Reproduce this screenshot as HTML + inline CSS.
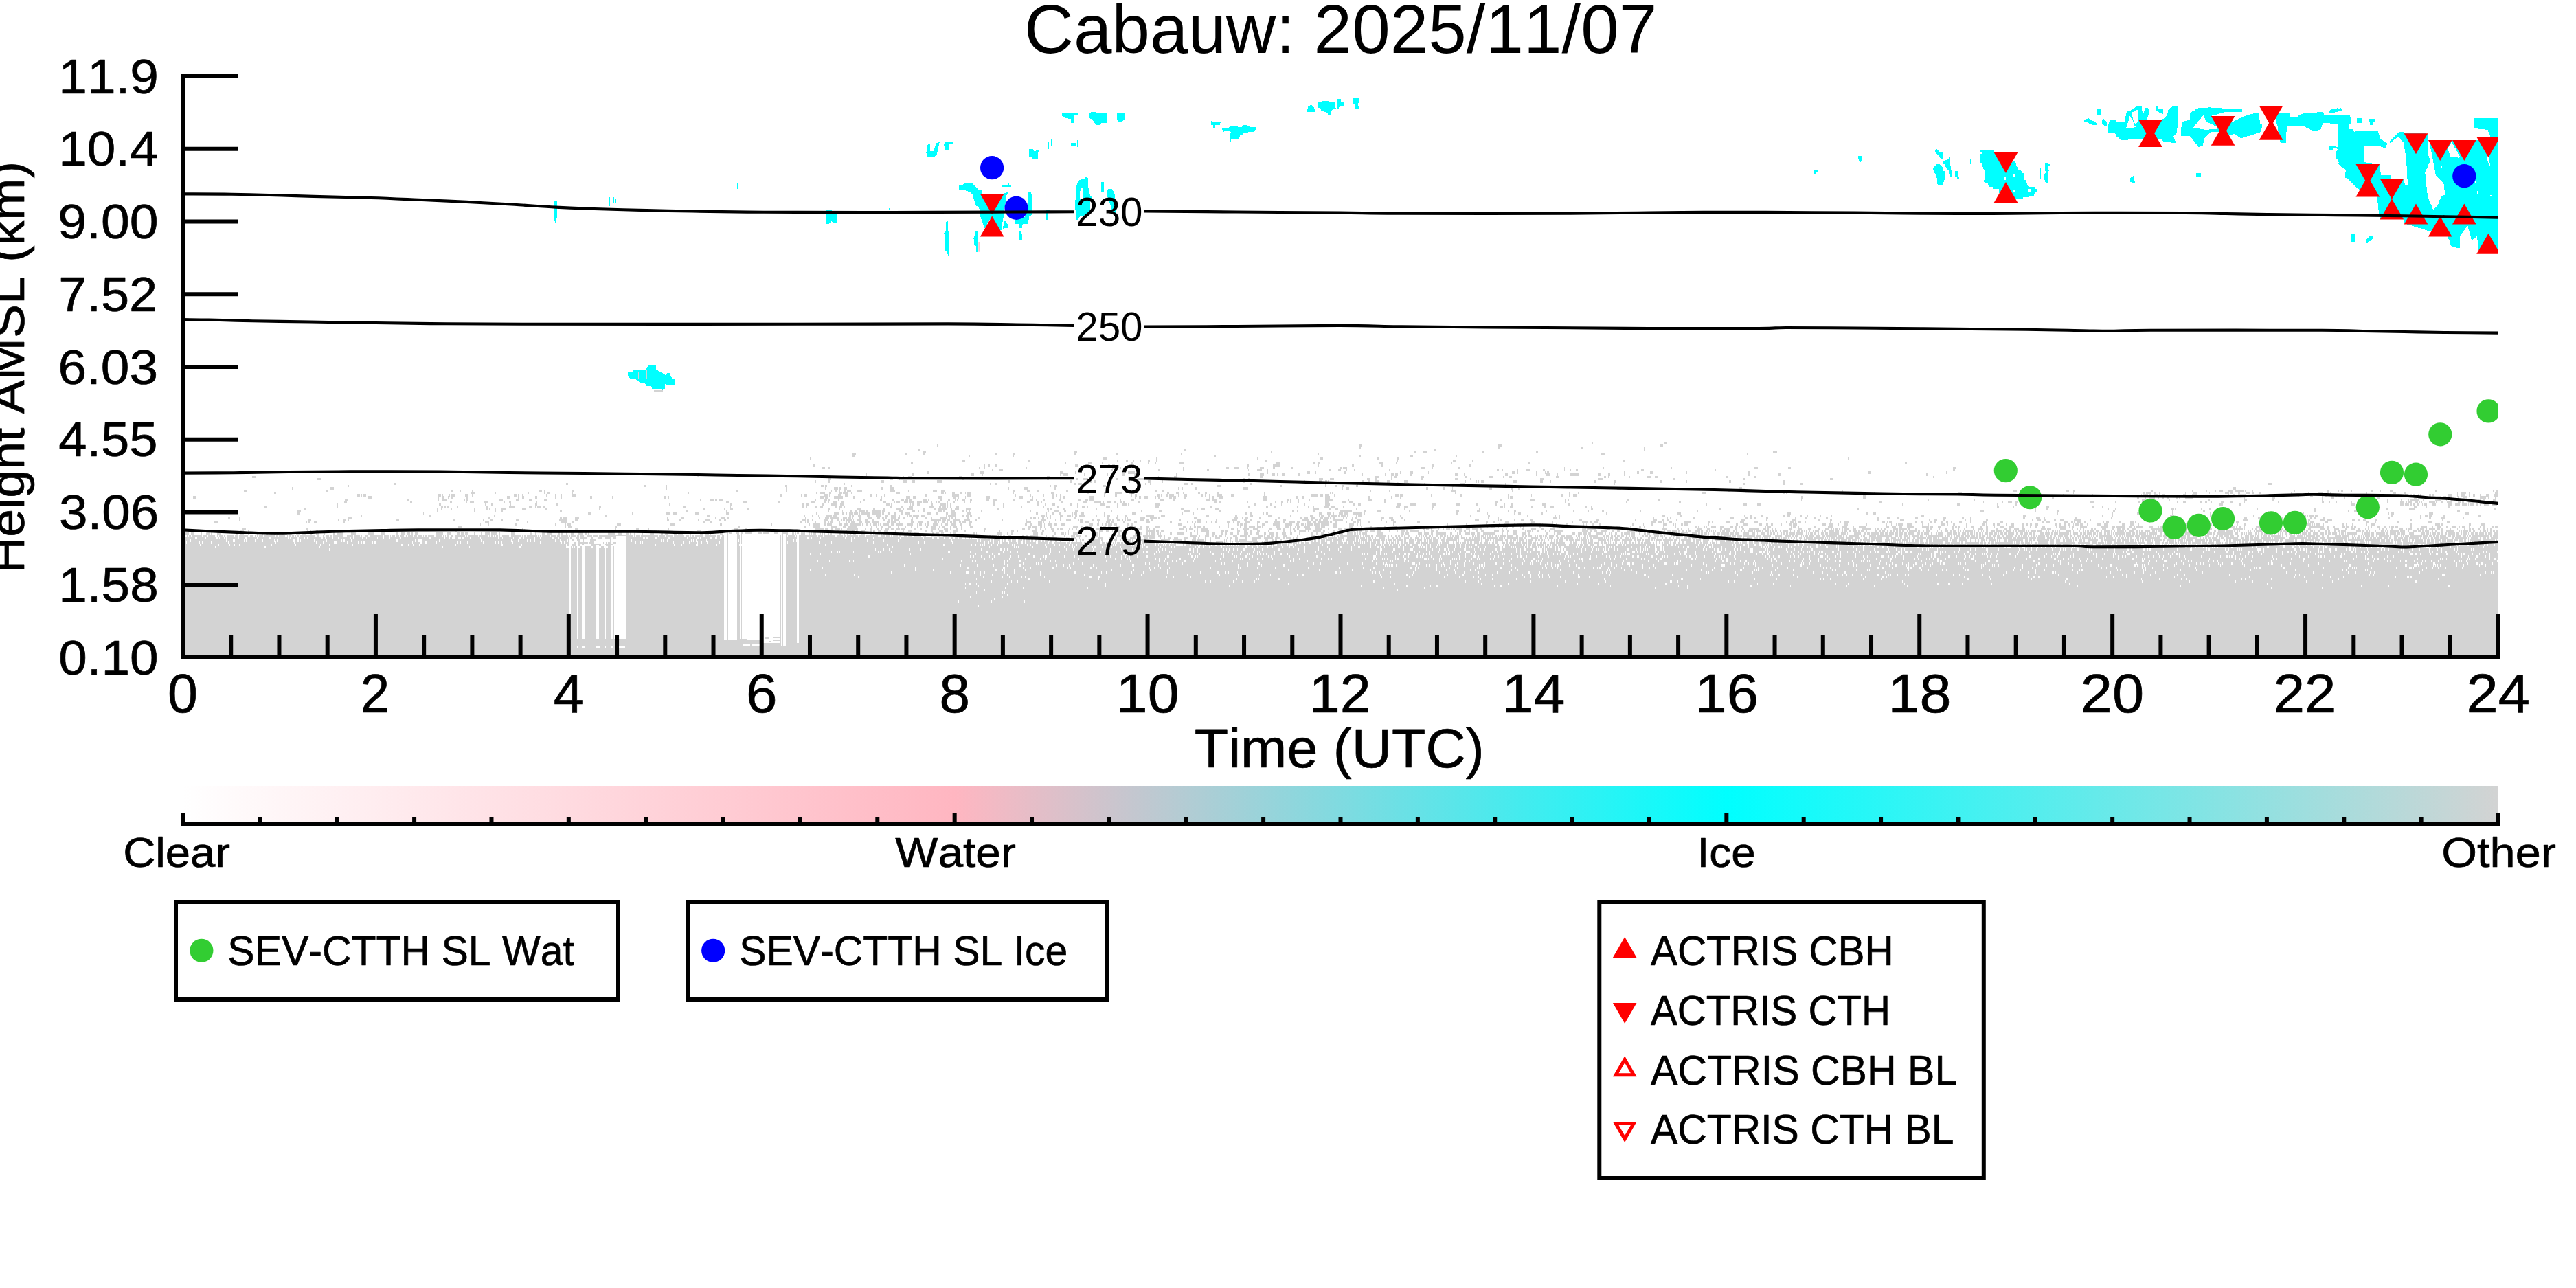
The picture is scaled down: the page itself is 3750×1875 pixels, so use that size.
<!DOCTYPE html><html><head><meta charset="utf-8"><title>Cabauw: 2025/11/07</title>
<style>html,body{margin:0;padding:0;background:#fff}body{width:3750px;height:1875px;overflow:hidden;font-family:"Liberation Sans",sans-serif}svg{display:block}</style></head><body>
<svg width="3750" height="1875" viewBox="0 0 3750 1875">
<rect width="3750" height="1875" fill="#fff"/>
<defs><clipPath id="ax"><rect x="266" y="100" width="3371" height="857"/></clipPath></defs>
<g clip-path="url(#ax)">
<g transform="translate(266.00,0) scale(1.17049,1)" shape-rendering="crispEdges">
<path d="M0 957.0L0 778.6L762 778.6L762 775.3L808 775.3L808 778.6L896 778.6L896 781.9L982 781.9L982 785.2L1128 785.2L1128 788.5L1232 788.5L1232 791.8L1364 791.8L1364 788.5L1389 788.5L1389 785.2L1409 785.2L1409 781.9L1423 781.9L1423 778.6L1433 778.6L1433 775.3L1448 775.3L1448 772.0L1464 772.0L1464 775.3L1478 775.3L1478 778.6L1800 778.6L1800 775.3L1862 775.3L1862 772.0L2880 772.0L2880 957.0 Z" fill="#d3d3d3"/>
<path d="M1753 645.0h1m89 0h2M938 648.2h1m524 0h3m169 0h5m198 0h3M1463 651.5h2m170 0h4m100 0h3m75 0h1m300 0h1M915 654.9h2m329 0h1m310 0h2m258 0h1M921 658.1h3m185 0h3m241 0h1m178 0h2m9 0h4m36 0h1m32 0h3m64 0h3m292 0h5M833 661.5h4m61 0h3m20 0h2m87 0h3m19 0h3m2 0h1m71 0h2m50 0h3m77 0h2m169 0h1m134 0h1m216 0h5m29 0h1m146 0h1M833 664.8h3m142 0h1m53 0h2m249 0h2m178 0h2m61 0h4m17 0h1m35 0h2m593 0h1M780 668.0h1m364 0h4m62 0h1m124 0h2m77 0h3m67 0h2m23 0h2m559 0h2M969 671.4h4m78 0h2m109 0h2m4 0h1m4 0h3m6 0h1m8 0h1m8 0h3m8 0h1m134 0h3m117 0h1m18 0h1m24 0h1m69 0h3m21 0h1m186 0h3M906 674.6h2m189 0h2m27 0h4m13 0h1m35 0h3m18 0h2m7 0h2m28 0h6m115 0h5m41 0h2m4 0h2m74 0h5m16 0h1m68 0h1m34 0h1m59 0h2m467 0h2M784 678.0h2m211 0h1m4 0h2m7 0h1m25 0h1m72 0h4m16 0h1m20 0h2m3 0h3m6 0h1m16 0h1m56 0h1m83 0h3m30 0h3m1 0h4m48 0h1m41 0h3m34 0h2m60 0h3m44 0h3M795 681.2h4m4 0h2m185 0h1m6 0h1m39 0h1m11 0h1m106 0h2m8 0h1m77 0h2m52 0h3m7 0h5m10 0h2m15 0h3m1 0h1m11 0h2m20 0h3m58 0h2m2 0h5m92 0h5m8 0h2m1 0h1m29 0h2m50 0h1m79 0h1m48 0h1m83 0h1m102 0h5m38 0h3m202 0h3M1006 684.5h1m8 0h5m134 0h3m56 0h3m28 0h1m29 0h2m49 0h1m10 0h6m7 0h1m75 0h3m9 0h3m7 0h1m9 0h1m42 0h2m54 0h1m77 0h3m1 0h1m1 0h2m18 0h1m9 0h5m17 0h2m24 0h1m7 0h1m6 0h2m79 0h3m88 0h2m295 0h2M925 687.9h3m64 0h5m94 0h3m16 0h1m57 0h2m6 0h3m1 0h4m165 0h1m48 0h4m7 0h1m35 0h2m24 0h1m42 0h1m12 0h3m19 0h1m27 0h1m75 0h4m3 0h1m20 0h1m1 0h2m9 0h1m2 0h2m93 0h2m15 0h2m14 0h4m41 0h1m34 0h1m40 0h4m146 0h3m94 0h2M850 691.1h1m56 0h2m71 0h4m10 0h1m96 0h2m2 0h6m20 0h1m27 0h2m17 0h3m12 0h3m49 0h2m88 0h2m13 0h5m3 0h1m5 0h4m3 0h2m4 0h4m16 0h3m24 0h1m52 0h1m27 0h2m6 0h3m2 0h3m16 0h2m53 0h4m7 0h2m50 0h3m35 0h1m12 0h4m9 0h1m6 0h1m8 0h12m24 0h2m10 0h2m17 0h1m153 0h3m36 0h2m147 0h1m33 0h3M86 694.5h5m782 0h1m21 0h2m5 0h5m58 0h4m106 0h3m77 0h2m3 0h1m52 0h1m19 0h3m104 0h4m4 0h1m65 0h1m67 0h6m15 0h1m3 0h3m30 0h4m51 0h2m27 0h5m13 0h1m7 0h3m55 0h3m5 0h1m3 0h1m47 0h2m3 0h1m25 0h1m21 0h5m5 0h4m85 0h1m34 0h2m220 0h1M167 697.8h5m630 0h4m43 0h1m30 0h3m7 0h2m78 0h1m104 0h2m26 0h1m7 0h2m7 0h6m7 0h1m27 0h2m25 0h9m21 0h1m6 0h5m3 0h2m83 0h4m3 0h3m20 0h1m64 0h5m9 0h5m41 0h3m6 0h4m17 0h1m36 0h3m39 0h4m15 0h2m85 0h5m68 0h5m88 0h2m84 0h3m106 0h3M787 701.0h1m14 0h3m44 0h1m19 0h3m24 0h5m6 0h4m27 0h7m65 0h1m16 0h2m75 0h2m18 0h1m3 0h2m4 0h1m42 0h1m22 0h5m13 0h1m99 0h3m2 0h1m71 0h1m17 0h4m4 0h2m1 0h1m42 0h2m5 0h2m7 0h5m10 0h3m18 0h5m70 0h2m13 0h1m1 0h1m3 0h4m36 0h5m28 0h4m9 0h1m53 0h2m23 0h2m55 0h2m30 0h2m52 0h3m64 0h3M262 704.4h3m212 0h2m344 0h1m180 0h1m5 0h2m96 0h3m2 0h5m79 0h2m4 0h1m42 0h5m3 0h2m71 0h3m91 0h1m39 0h1m14 0h2m46 0h1m19 0h1m43 0h6m51 0h1m95 0h1m38 0h1m56 0h1m102 0h3m47 0h2m14 0h1m4 0h4m578 0h5M206 707.6h1m367 0h3m24 0h1m147 0h2m43 0h4m1 0h2m30 0h2m46 0h3m128 0h1m68 0h1m4 0h3m58 0h3m139 0h1m1 0h2m73 0h3m54 0h1m12 0h2m5 0h3m15 0h1m1 0h1m117 0h2m16 0h1m19 0h1m6 0h6m1 0h1m5 0h2M136 711.0h1m47 0h4m413 0h1m148 0h2m47 0h1m10 0h5m1 0h3m4 0h3m1 0h1m40 0h3m9 0h5m142 0h1m18 0h5m33 0h2m152 0h2m3 0h1m15 0h3m57 0h6m116 0h2m3 0h5m95 0h3m18 0h3m9 0h1m17 0h1m26 0h4m24 0h2m7 0h2m121 0h5m132 0h1m13 0h4m610 0h5M76 714.2h4m98 0h3m152 0h3m9 0h1m14 0h1m82 0h4m2 0h2m33 0h2m202 0h2m60 0h1m55 0h1m4 0h3m2 0h2m5 0h2m1 0h5m8 0h6m34 0h5m1 0h1m16 0h1m30 0h5m5 0h5m85 0h2m15 0h3m9 0h3m34 0h2m108 0h3m6 0h3m239 0h1m15 0h2m22 0h1m77 0h5m70 0h2m266 0h3m66 0h6m6 0h4m57 0h2m211 0h5m61 0h4m5 0h2m95 0h2m49 0h2m15 0h2m10 0h1m3 0h5m7 0h6m3 0h11m1 0h1m8 0h1m50 0h2m40 0h3m10 0h2m2 0h3m9 0h2m24 0h2m8 0h2m11 0h3m53 0h3m69 0h1m3 0h2M114 717.5h2m243 0h4m25 0h2m39 0h2m18 0h1m4 0h2m28 0h1m144 0h1m58 0h1m83 0h1m15 0h1m4 0h6m5 0h2m11 0h3m1 0h6m4 0h1m47 0h1m8 0h4m51 0h4m1 0h1m8 0h3m6 0h3m4 0h1m2 0h5m52 0h1m46 0h4m19 0h1m20 0h3m19 0h2m11 0h4m1 0h4m56 0h3m8 0h4m5 0h1m18 0h2m6 0h3m12 0h3m56 0h1m81 0h1m1 0h1m152 0h1m141 0h1m10 0h2m153 0h4m96 0h2m2 0h1m73 0h1m1 0h2m31 0h2m103 0h5m138 0h1m86 0h2m2 0h6m4 0h2m4 0h2m30 0h1m10 0h5m14 0h1m19 0h5m1 0h4m6 0h3m4 0h1m2 0h5m3 0h2m6 0h3m37 0h1m20 0h1m12 0h5m6 0h2m2 0h1m24 0h1m18 0h2m32 0h4m9 0h3m64 0h1m3 0h7m3 0h1m32 0h4M169 720.9h1m47 0h3m1 0h2m1 0h4m89 0h4m1 0h2m7 0h1m2 0h4m13 0h4m5 0h1m51 0h4m1 0h1m4 0h2m28 0h2m9 0h2m6 0h1m12 0h5m254 0h2m24 0h1m2 0h5m20 0h6m1 0h1m10 0h4m3 0h1m1 0h3m28 0h2m5 0h1m9 0h1m50 0h3m31 0h8m10 0h5m55 0h1m18 0h1m15 0h1m11 0h2m2 0h1m4 0h2m53 0h1m12 0h3m18 0h1m3 0h3m25 0h4m1 0h1m5 0h3m1 0h6m5 0h2m5 0h4m18 0h2m2 0h2m3 0h2m9 0h4m1 0h1m11 0h4m37 0h1m57 0h9m3 0h3m3 0h5m6 0h1m75 0h5m1 0h1m1 0h2m34 0h1m36 0h2m57 0h2m27 0h1m37 0h2m7 0h1m4 0h5m324 0h1m31 0h4m187 0h5m52 0h2m34 0h2m60 0h1m1 0h2m1 0h3m1 0h3m3 0h6m1 0h2m1 0h4m23 0h3m8 0h6m39 0h1m4 0h4m3 0h10m45 0h3m17 0h1m14 0h3m15 0h2m11 0h2m9 0h1m4 0h1m11 0h1m3 0h2m18 0h2m11 0h5m17 0h3m3 0h2m2 0h2m4 0h1m2 0h1m8 0h1m1 0h2m2 0h2m11 0h1m6 0h5m6 0h1m3 0h5m5 0h1m4 0h3m6 0h1m7 0h4m5 0h5M13 724.1h3m215 0h5m82 0h1m3 0h3m5 0h1m3 0h2m16 0h3m48 0h4m8 0h1m1 0h1m4 0h1m1 0h1m13 0h3m22 0h1m7 0h1m35 0h2m25 0h2m63 0h2m2 0h2m188 0h4m2 0h4m7 0h11m13 0h2m32 0h2m30 0h5m3 0h4m27 0h5m14 0h3m3 0h1m8 0h1m26 0h4m37 0h4m11 0h2m23 0h2m8 0h1m2 0h3m31 0h5m51 0h2m3 0h3m3 0h5m9 0h2m2 0h3m11 0h3m1 0h4m4 0h1m5 0h3m28 0h1m4 0h1m7 0h5m50 0h5m36 0h2m6 0h1m27 0h6m47 0h3m26 0h1m10 0h1m133 0h1m2 0h3m359 0h2m75 0h3m201 0h5m3 0h1m22 0h2m104 0h2m8 0h1m3 0h8m3 0h2m3 0h3m4 0h3m8 0h2m2 0h1m6 0h7m1 0h2m64 0h1m33 0h4m58 0h2m10 0h3m13 0h1m40 0h3m43 0h3m2 0h6m11 0h12m2 0h4m4 0h3m5 0h1m2 0h1m5 0h5m3 0h1m12 0h8m2 0h1m6 0h1m1 0h1M202 727.5h3m74 0h3m36 0h1m4 0h5m21 0h2m1 0h3m39 0h4m16 0h5m12 0h3m15 0h5m67 0h1m121 0h1m12 0h4m2 0h3m2 0h5m115 0h1m9 0h4m1 0h3m10 0h2m30 0h1m19 0h3m12 0h2m10 0h3m1 0h4m1 0h4m14 0h5m1 0h1m2 0h1m11 0h2m8 0h2m6 0h2m1 0h1m5 0h4m6 0h3m18 0h3m5 0h4m21 0h2m18 0h5m3 0h1m8 0h2m1 0h1m15 0h4m21 0h3m6 0h3m2 0h5m32 0h2m13 0h3m32 0h5m12 0h2m39 0h4m4 0h1m1 0h3m58 0h4m16 0h1m9 0h2m1 0h1m9 0h1m13 0h1m19 0h9m20 0h1m23 0h5m15 0h3m105 0h1m35 0h2m36 0h5m38 0h1m3 0h1m72 0h2m37 0h2m174 0h1m1 0h1m49 0h1m107 0h1m55 0h2m208 0h3m6 0h1m2 0h1m6 0h1m2 0h1m7 0h1m3 0h1m47 0h2m43 0h3m31 0h3m59 0h1m44 0h2m35 0h1m16 0h1m7 0h2m1 0h12m4 0h2m4 0h1m8 0h7m7 0h1m5 0h1m10 0h1m3 0h3m11 0h1m3 0h5m1 0h4m4 0h1m4 0h4M201 730.8h3m79 0h2m47 0h3m17 0h2m3 0h5m13 0h5m20 0h1m5 0h2m31 0h2m235 0h3m18 0h5m39 0h2m39 0h5m11 0h2m2 0h2m5 0h4m3 0h1m2 0h3m20 0h1m28 0h4m9 0h2m2 0h4m5 0h5m2 0h6m3 0h6m1 0h7m4 0h1m4 0h2m1 0h3m9 0h1m7 0h1m11 0h2m6 0h2m27 0h3m39 0h4m8 0h3m2 0h2m24 0h1m25 0h5m6 0h1m3 0h4m1 0h3m3 0h1m4 0h4m4 0h3m5 0h2m2 0h2m16 0h2m92 0h5m2 0h2m32 0h2m33 0h2m4 0h1m1 0h2m6 0h1m2 0h1m9 0h1m33 0h5m15 0h6m4 0h4m39 0h2m32 0h1m104 0h2m84 0h1m75 0h2m64 0h2m148 0h1m98 0h3m114 0h1m11 0h1m22 0h2m6 0h5m4 0h3m90 0h5m26 0h1m28 0h2m3 0h2m5 0h2m3 0h1m30 0h1m7 0h3m6 0h1m11 0h2m4 0h3m4 0h2m3 0h1m7 0h3m8 0h3m15 0h1m41 0h1m53 0h3m7 0h1m7 0h1m18 0h1m44 0h1m15 0h5m2 0h1m1 0h5m1 0h1m2 0h4m1 0h2m1 0h1m7 0h1m1 0h3m1 0h3m1 0h2m5 0h2m5 0h7m7 0h4m1 0h2m5 0h2m1 0h4m8 0h12m1 0h4m1 0h5M192 734.0h1m126 0h2m55 0h1m7 0h1m22 0h1m30 0h3m24 0h2m138 0h2m74 0h2m88 0h2m3 0h2m8 0h1m8 0h2m9 0h2m1 0h2m1 0h1m5 0h4m35 0h1m17 0h4m2 0h1m23 0h1m1 0h2m4 0h4m13 0h3m9 0h7m2 0h1m2 0h1m52 0h3m10 0h1m41 0h3m7 0h1m8 0h4m19 0h2m6 0h1m28 0h3m1 0h2m15 0h1m6 0h5m2 0h1m33 0h5m117 0h3m17 0h2m12 0h1m17 0h1m10 0h1m25 0h6m29 0h2m4 0h3m45 0h5m12 0h4m1 0h2m20 0h4m25 0h5m20 0h3m22 0h1m10 0h1m7 0h3m36 0h4m28 0h3m168 0h2m44 0h5m13 0h5m175 0h2m67 0h3m46 0h2m4 0h1m16 0h2m156 0h4m81 0h1m9 0h5m20 0h3m137 0h5m33 0h1m22 0h4m2 0h5m1 0h2m1 0h3m2 0h3m4 0h1m1 0h4m7 0h4m16 0h4m4 0h6m3 0h6m1 0h1m2 0h4m4 0h2m2 0h2m3 0h6m4 0h6M101 737.4h3m88 0h1m128 0h3m1 0h2m1 0h3m10 0h2m35 0h2m26 0h3m1 0h3m16 0h1m1 0h3m4 0h1m2 0h5m2 0h2m68 0h2m103 0h3m55 0h1m89 0h1m4 0h1m9 0h3m3 0h4m16 0h1m3 0h4m2 0h2m14 0h1m13 0h1m4 0h1m22 0h2m12 0h1m8 0h5m12 0h1m8 0h5m7 0h2m2 0h4m2 0h1m2 0h2m5 0h4m55 0h1m21 0h2m26 0h1m12 0h1m4 0h2m22 0h2m4 0h4m2 0h2m22 0h5m9 0h1m47 0h4m64 0h3m44 0h3m19 0h3m7 0h2m27 0h1m12 0h2m4 0h2m13 0h5m3 0h6m1 0h1m7 0h1m38 0h1m26 0h5m5 0h4m31 0h3m82 0h3m2 0h1m6 0h3m23 0h3m13 0h2m5 0h5m39 0h2m5 0h2m503 0h3m18 0h1m40 0h3m54 0h3m9 0h2m48 0h3m264 0h3m63 0h1m4 0h3m12 0h1m27 0h2M151 740.6h3m154 0h1m7 0h2m3 0h2m11 0h1m27 0h1m15 0h1m2 0h1m7 0h1m3 0h1m2 0h6m20 0h4m3 0h1m21 0h3m64 0h1m128 0h2m24 0h1m7 0h3m17 0h3m99 0h2m12 0h1m4 0h1m16 0h5m2 0h1m12 0h2m10 0h3m14 0h5m3 0h1m4 0h7m13 0h2m12 0h1m4 0h10m5 0h2m3 0h1m1 0h3m9 0h7m26 0h1m5 0h3m59 0h2m1 0h3m14 0h2m38 0h2m104 0h5m15 0h2m4 0h4m13 0h4m82 0h1m35 0h7m13 0h2m6 0h3m22 0h2m58 0h2m33 0h1m57 0h2m137 0h3m156 0h3m169 0h3m188 0h1m30 0h1m13 0h2m74 0h2m7 0h2m49 0h2m17 0h4m1 0h1m31 0h1m9 0h2m57 0h2m69 0h4m50 0h2m10 0h5m19 0h3m26 0h4m1 0h2m99 0h2M142 744.0h5m88 0h1m80 0h2m44 0h1m26 0h1m6 0h2m71 0h3m154 0h2m48 0h1m125 0h2m7 0h1m4 0h1m3 0h1m9 0h3m3 0h3m2 0h2m1 0h4m1 0h3m6 0h11m1 0h3m18 0h5m11 0h4m3 0h2m5 0h2m7 0h1m9 0h5m1 0h2m8 0h2m1 0h1m10 0h2m2 0h1m2 0h2m14 0h1m60 0h1m21 0h1m7 0h5m7 0h3m11 0h3m41 0h2m36 0h1m21 0h4m28 0h4m1 0h2m8 0h1m26 0h3m57 0h1m21 0h1m9 0h2m4 0h1m18 0h3m31 0h5m1 0h9m15 0h2m15 0h5m34 0h2m57 0h3m23 0h4m34 0h1m7 0h2m37 0h2m32 0h1m18 0h1m16 0h3m44 0h2m69 0h2m351 0h4m64 0h1m26 0h2m61 0h1m6 0h2m71 0h2m37 0h2m136 0h2m40 0h1m7 0h3m69 0h1m55 0h3M142 747.2h4m153 0h1m204 0h4m51 0h1m41 0h5m4 0h5m22 0h5m34 0h3m109 0h1m21 0h7m3 0h3m2 0h1m3 0h5m1 0h5m1 0h1m2 0h10m4 0h10m2 0h2m5 0h2m5 0h3m7 0h1m3 0h5m1 0h1m4 0h1m15 0h5m6 0h3m10 0h3m3 0h7m4 0h1m9 0h4m81 0h3m10 0h1m6 0h3m6 0h2m14 0h1m2 0h3m5 0h4m25 0h1m34 0h4m58 0h1m12 0h2m64 0h2m3 0h3m13 0h2m2 0h3m63 0h4m6 0h5m3 0h1m1 0h1m4 0h5m2 0h4m6 0h12m2 0h1m114 0h2m36 0h1m33 0h1m4 0h3m26 0h2m78 0h1m87 0h5m133 0h4m93 0h3m6 0h4m113 0h1m111 0h1m68 0h1m30 0h2m41 0h2m40 0h1m4 0h1m22 0h2m91 0h1m105 0h1m3 0h3m44 0h5m40 0h4M150 750.5h1m71 0h1m83 0h2m79 0h2m136 0h3m124 0h4m116 0h2m9 0h1m6 0h1m9 0h7m1 0h6m15 0h2m2 0h2m5 0h4m7 0h4m7 0h7m5 0h3m4 0h3m1 0h2m4 0h1m9 0h1m2 0h3m1 0h8m2 0h5m11 0h1m14 0h1m2 0h9m8 0h3m2 0h4m1 0h3m86 0h4m2 0h1m3 0h2m3 0h1m3 0h1m3 0h4m5 0h5m1 0h1m3 0h2m3 0h8m12 0h2m9 0h1m3 0h3m9 0h2m8 0h2m25 0h9m9 0h5m34 0h1m16 0h3m33 0h2m16 0h4m19 0h5m22 0h2m23 0h3m6 0h1m1 0h2m1 0h3m5 0h3m1 0h7m2 0h2m1 0h1m1 0h4m2 0h2m2 0h1m2 0h1m3 0h2m1 0h4m48 0h1m86 0h2m20 0h3m46 0h1m34 0h1m4 0h1m127 0h4m18 0h2m78 0h1m7 0h1m11 0h3m25 0h3m2 0h4m12 0h3m6 0h1m15 0h2m12 0h1m111 0h4m53 0h1m69 0h3m95 0h1m12 0h1m71 0h3m1 0h1m29 0h5m10 0h1m2 0h2m49 0h1m58 0h1m2 0h1m1 0h2m1 0h1m2 0h5m2 0h3m92 0h2m34 0h1m5 0h4m1 0h4m13 0h3m40 0h4M56 753.9h3m11 0h2m134 0h4m96 0h1m73 0h3m86 0h3m1 0h5m10 0h5m105 0h1m3 0h1m16 0h5m38 0h1m6 0h5m3 0h2m95 0h2m15 0h1m7 0h5m1 0h12m4 0h5m1 0h4m2 0h1m7 0h3m9 0h5m5 0h4m3 0h2m2 0h2m5 0h7m1 0h3m4 0h3m8 0h1m1 0h1m2 0h2m9 0h3m5 0h1m10 0h9m2 0h1m2 0h2m2 0h1m14 0h3m11 0h2m63 0h2m2 0h3m3 0h1m2 0h1m1 0h2m4 0h1m2 0h2m11 0h1m16 0h3m39 0h2m8 0h3m9 0h1m2 0h1m15 0h6m6 0h1m1 0h7m1 0h3m42 0h4m46 0h4m5 0h1m4 0h3m14 0h2m22 0h1m25 0h3m3 0h4m4 0h6m2 0h1m3 0h3m2 0h6m1 0h1m2 0h4m9 0h2m2 0h1m6 0h2m2 0h3m30 0h3m6 0h5m10 0h2m106 0h1m12 0h1m67 0h5m3 0h1m116 0h1m15 0h2m3 0h1m28 0h1m44 0h5m14 0h3m4 0h1m3 0h3m12 0h3m23 0h1m9 0h2m11 0h2m8 0h3m5 0h1m7 0h2m61 0h3m10 0h3m9 0h3m20 0h3m32 0h3m20 0h2m8 0h1m65 0h2m14 0h5m5 0h1m37 0h2m43 0h2m70 0h1m1 0h2m1 0h3m28 0h4m18 0h3m33 0h3m14 0h3m24 0h5m27 0h1m5 0h2m2 0h4m8 0h2m79 0h2m38 0h1m10 0h2m13 0h5m22 0h1M70 757.1h1m85 0h4m33 0h1m6 0h3m2 0h2m59 0h3m67 0h3m34 0h2m7 0h3m11 0h2m16 0h4m43 0h1m6 0h10m10 0h4m110 0h3m12 0h2m6 0h1m15 0h1m2 0h1m2 0h1m2 0h5m12 0h3m3 0h3m95 0h4m2 0h2m4 0h1m14 0h5m3 0h3m5 0h3m2 0h1m1 0h1m1 0h1m1 0h7m2 0h1m4 0h4m5 0h5m5 0h2m11 0h3m3 0h2m2 0h2m1 0h7m15 0h2m22 0h9m1 0h3m1 0h5m1 0h4m5 0h8m5 0h7m7 0h2m30 0h2m28 0h2m18 0h6m11 0h1m5 0h1m7 0h4m1 0h1m9 0h1m1 0h4m11 0h3m3 0h4m9 0h4m2 0h2m4 0h4m3 0h1m2 0h1m2 0h4m12 0h4m4 0h3m3 0h2m32 0h2m21 0h5m18 0h2m18 0h2m1 0h3m9 0h4m3 0h3m28 0h3m8 0h3m21 0h7m4 0h2m3 0h3m1 0h3m2 0h6m6 0h5m1 0h7m9 0h3m5 0h5m25 0h2m9 0h1m1 0h3m9 0h1m3 0h1m87 0h5m23 0h2m1 0h3m15 0h1m7 0h1m1 0h2m8 0h4m56 0h4m17 0h5m44 0h2m21 0h4m7 0h3m2 0h4m8 0h2m21 0h1m57 0h5m26 0h2m30 0h5m28 0h3m12 0h2m56 0h2m27 0h5m31 0h1m6 0h3m8 0h1m26 0h1m5 0h2m18 0h2m55 0h1m5 0h5m4 0h2m10 0h3m5 0h5m12 0h9m11 0h1m73 0h2m49 0h2m5 0h2m8 0h5m30 0h1m12 0h1m1 0h4m32 0h5m13 0h2m23 0h3m13 0h5m2 0h7m25 0h4m3 0h3m4 0h3m12 0h2m42 0h1m38 0h1M39 760.5h5m109 0h2m1 0h3m4 0h4m32 0h3m174 0h5m47 0h2m40 0h5m1 0h2m6 0h2m139 0h1m18 0h1m2 0h2m6 0h3m110 0h3m3 0h2m1 0h1m9 0h1m10 0h2m3 0h1m1 0h3m8 0h2m7 0h1m1 0h3m1 0h5m5 0h4m3 0h7m3 0h8m10 0h3m2 0h3m1 0h3m3 0h1m1 0h1m12 0h4m5 0h5m6 0h2m2 0h1m4 0h3m2 0h1m3 0h4m2 0h2m2 0h3m2 0h2m4 0h3m1 0h5m4 0h4m66 0h5m1 0h1m9 0h5m1 0h1m6 0h1m38 0h3m3 0h5m12 0h1m8 0h5m2 0h3m12 0h1m12 0h4m11 0h5m25 0h2m19 0h2m4 0h1m3 0h1m1 0h5m7 0h1m5 0h2m3 0h2m13 0h4m3 0h2m3 0h4m6 0h6m2 0h1m6 0h4m6 0h4m7 0h8m4 0h1m6 0h7m3 0h3m9 0h6m1 0h3m1 0h1m2 0h13m2 0h2m4 0h3m11 0h1m7 0h4m2 0h2m1 0h1m9 0h3m20 0h1m7 0h1m1 0h2m26 0h4m82 0h2m6 0h3m13 0h5m15 0h1m11 0h4m22 0h1m12 0h1m11 0h1m11 0h7m3 0h2m4 0h4m67 0h1m1 0h3m2 0h5m2 0h1m6 0h4m16 0h7m22 0h2m3 0h1m16 0h5m13 0h5m13 0h4m35 0h1m4 0h5m1 0h1m3 0h4m5 0h1m30 0h1m11 0h1m4 0h6m42 0h3m3 0h1m1 0h1m1 0h2m3 0h1m25 0h1m6 0h2m9 0h2m4 0h1m7 0h3m3 0h3m3 0h1m9 0h4m10 0h1m6 0h1m8 0h5m16 0h4m48 0h2m3 0h5m6 0h1m11 0h5m4 0h2m1 0h1m2 0h6m2 0h1m1 0h2m22 0h1m2 0h4m12 0h3m11 0h4m2 0h2m16 0h1m29 0h2m18 0h4m1 0h4m13 0h3m33 0h3m31 0h3m7 0h5m2 0h1m34 0h1m2 0h2m1 0h4m15 0h3m48 0h3m8 0h1m26 0h3m36 0h4m19 0h3M370 763.8h1m9 0h1m32 0h2m48 0h2m11 0h1m1 0h5m57 0h5m62 0h5m56 0h3m61 0h1m45 0h2m4 0h2m1 0h6m4 0h3m1 0h6m9 0h4m2 0h5m3 0h14m1 0h1m4 0h3m2 0h1m3 0h5m1 0h1m1 0h2m2 0h7m3 0h3m3 0h8m6 0h7m5 0h2m1 0h3m4 0h1m2 0h2m5 0h7m3 0h1m4 0h4m3 0h3m1 0h3m4 0h3m8 0h4m66 0h3m1 0h1m1 0h4m7 0h5m2 0h1m4 0h5m3 0h4m4 0h5m31 0h4m5 0h3m3 0h2m2 0h2m2 0h5m2 0h4m3 0h1m9 0h2m2 0h3m56 0h4m16 0h1m41 0h1m10 0h3m1 0h3m2 0h4m12 0h2m4 0h4m2 0h1m7 0h9m5 0h3m1 0h6m5 0h3m3 0h3m2 0h1m1 0h5m1 0h2m1 0h7m2 0h9m6 0h5m15 0h6m4 0h1m2 0h1m40 0h2m65 0h2m22 0h1m24 0h1m15 0h1m6 0h5m7 0h1m3 0h5m2 0h3m6 0h2m9 0h3m1 0h1m11 0h1m4 0h1m11 0h3m19 0h1m2 0h1m7 0h3m6 0h2m34 0h1m4 0h2m11 0h1m10 0h1m13 0h5m7 0h2m1 0h1m6 0h3m1 0h5m25 0h1m34 0h2m7 0h6m14 0h3m5 0h3m3 0h3m10 0h1m9 0h4m1 0h5m31 0h5m3 0h5m6 0h2m7 0h4m22 0h2m23 0h2m5 0h1m5 0h1m1 0h6m5 0h6m3 0h1m9 0h2m5 0h2m15 0h2m1 0h2m3 0h1m6 0h2m14 0h1m19 0h3m2 0h1m8 0h2m2 0h4m7 0h1m6 0h4m10 0h2m3 0h2m2 0h3m3 0h5m21 0h2m2 0h3m4 0h2m2 0h3m4 0h1m2 0h5m1 0h4m4 0h2m11 0h5m4 0h4m18 0h3m5 0h1m1 0h4m6 0h1m46 0h5m1 0h4m2 0h5m3 0h2m6 0h3m10 0h4m31 0h1m8 0h2m31 0h2m6 0h1m10 0h3m13 0h2m8 0h5m1 0h1m1 0h2m2 0h5m3 0h1m22 0h3m2 0h1m7 0h1m17 0h1m5 0h4m45 0h1m25 0h1m3 0h6m1 0h3m32 0h3m12 0h6M343 767.0h5m128 0h1m2 0h5m54 0h2m120 0h1m30 0h2m79 0h3m3 0h1m5 0h9m9 0h1m3 0h2m1 0h5m7 0h4m3 0h10m18 0h2m4 0h1m5 0h3m2 0h1m3 0h4m8 0h1m9 0h1m6 0h1m6 0h1m6 0h1m3 0h3m4 0h5m5 0h1m2 0h4m6 0h1m4 0h4m3 0h1m1 0h1m10 0h4m49 0h1m18 0h4m1 0h7m3 0h3m2 0h1m6 0h3m13 0h1m12 0h6m4 0h3m2 0h4m2 0h3m4 0h1m5 0h2m1 0h4m3 0h4m5 0h6m8 0h2m2 0h2m3 0h3m4 0h3m5 0h3m9 0h5m29 0h3m6 0h1m4 0h2m1 0h6m2 0h2m18 0h1m1 0h1m8 0h1m6 0h1m7 0h1m2 0h1m1 0h3m3 0h8m2 0h5m1 0h2m4 0h1m11 0h5m5 0h6m1 0h2m4 0h1m2 0h4m5 0h7m7 0h5m2 0h5m4 0h1m5 0h4m16 0h4m10 0h2m10 0h3m14 0h2m31 0h1m17 0h1m22 0h8m3 0h1m1 0h11m10 0h1m8 0h4m7 0h1m4 0h5m3 0h2m5 0h1m1 0h4m5 0h3m7 0h1m3 0h1m11 0h1m7 0h2m15 0h3m4 0h2m9 0h1m12 0h1m2 0h2m5 0h1m5 0h3m9 0h1m1 0h2m2 0h1m3 0h4m5 0h5m11 0h1m1 0h2m9 0h3m3 0h2m22 0h2m13 0h1m24 0h2m2 0h1m6 0h1m1 0h2m5 0h6m1 0h1m3 0h5m7 0h4m3 0h2m2 0h2m1 0h3m21 0h1m5 0h1m2 0h4m25 0h2m1 0h4m2 0h1m18 0h3m15 0h7m10 0h5m1 0h1m7 0h2m6 0h8m20 0h1m4 0h4m4 0h5m3 0h4m6 0h1m1 0h8m9 0h9m1 0h4m6 0h3m14 0h3m1 0h3m1 0h2m8 0h1m2 0h1m2 0h4m7 0h3m5 0h2m8 0h1m6 0h6m6 0h6m9 0h3m2 0h1m4 0h2m4 0h4m6 0h3m14 0h1m2 0h10m3 0h2m2 0h2m8 0h8m15 0h1m1 0h3m1 0h5m6 0h3m2 0h10m6 0h3m2 0h2m2 0h8m7 0h5m6 0h2m2 0h5m13 0h1m7 0h1m8 0h3m2 0h1m2 0h2m2 0h1m11 0h4m5 0h2m6 0h5m6 0h5m2 0h1m2 0h3m4 0h1m13 0h6m11 0h2m4 0h3m1 0h1m10 0h1m1 0h2m3 0h1m3 0h1m4 0h3m5 0h1m3 0h19m4 0h2m5 0h3m8 0h4m1 0h5m1 0h4m1 0h2m15 0h1m2 0h2m7 0h2m5 0h3m4 0h1m1 0h4m2 0h3m16 0h1m12 0h7m6 0h2m4 0h5m7 0h3m5 0h5m3 0h1m3 0h3m5 0h2m12 0h1m2 0h3m9 0h3m1 0h4M57 770.4h1m16 0h5m75 0h2m266 0h2m64 0h3m47 0h1m25 0h3m12 0h1m23 0h2m81 0h5m3 0h1m4 0h3m84 0h12m1 0h3m4 0h2m3 0h7m1 0h1m6 0h14m8 0h2m2 0h1m1 0h4m5 0h3m3 0h1m4 0h4m3 0h3m4 0h4m1 0h5m12 0h2m5 0h2m1 0h1m10 0h5m3 0h2m6 0h5m2 0h2m6 0h2m4 0h1m28 0h2m45 0h3m5 0h2m5 0h3m4 0h1m5 0h2m6 0h4m4 0h1m2 0h1m1 0h2m7 0h1m3 0h1m4 0h1m7 0h6m2 0h6m3 0h8m3 0h3m1 0h4m16 0h1m13 0h8m5 0h2m1 0h2m4 0h3m30 0h6m1 0h2m3 0h5m4 0h2m4 0h5m1 0h2m29 0h4m3 0h1m6 0h3m1 0h4m5 0h7m13 0h3m7 0h5m3 0h1m7 0h1m3 0h2m3 0h2m8 0h8m5 0h8m7 0h2m11 0h5m3 0h1m1 0h3m1 0h6m8 0h2m2 0h2m1 0h3m38 0h1m29 0h2m1 0h4m2 0h2m7 0h2m5 0h1m2 0h5m1 0h2m1 0h2m1 0h9m4 0h5m3 0h7m2 0h3m19 0h1m4 0h2m4 0h1m19 0h2m7 0h1m1 0h4m1 0h1m7 0h3m8 0h5m34 0h5m1 0h11m15 0h3m9 0h5m4 0h7m2 0h1m36 0h6m14 0h2m2 0h2m8 0h1m10 0h5m7 0h4m12 0h3m1 0h5m1 0h3m6 0h2m6 0h3m6 0h13m4 0h4m1 0h3m3 0h2m2 0h2m16 0h4m7 0h5m7 0h4m8 0h3m7 0h5m2 0h1m2 0h1m1 0h3m2 0h1m3 0h1m2 0h6m5 0h3m8 0h11m5 0h1m2 0h2m2 0h2m1 0h4m8 0h6m1 0h10m2 0h2m7 0h2m7 0h1m3 0h4m1 0h3m8 0h1m6 0h3m7 0h2m5 0h1m6 0h1m10 0h1m6 0h6m4 0h2m10 0h2m5 0h1m3 0h2m3 0h3m4 0h4m1 0h1m3 0h4m1 0h1m18 0h6m2 0h5m11 0h7m8 0h1m4 0h2m3 0h1m2 0h2m8 0h1m1 0h1m2 0h1m8 0h5m8 0h2m4 0h4m2 0h4m2 0h3m3 0h2m1 0h2m5 0h1m13 0h11m1 0h2m9 0h2m1 0h1m3 0h1m5 0h1m3 0h1m2 0h2m1 0h2m1 0h2m2 0h5m1 0h4m1 0h1m3 0h2m3 0h3m7 0h3m1 0h5m9 0h13m2 0h1m8 0h2m2 0h3m3 0h1m5 0h4m8 0h1m2 0h2m4 0h2m11 0h1m1 0h4m1 0h2m2 0h2m7 0h4m11 0h6m3 0h2m7 0h6m7 0h2m5 0h6m3 0h2m7 0h2m2 0h1m12 0h2m3 0h2m2 0h2m4 0h3m8 0h4m4 0h1m1 0h5m6 0h4m1 0h5m2 0h1m3 0h7m2 0h4m2 0h2m6 0h1m2 0h1m8 0h1m7 0h1m5 0h3m1 0h2m6 0h2m4 0h3m2 0h1m3 0h2M39 773.6h1m12 0h1m7 0h1m11 0h4m1 0h1m3 0h1m60 0h1m12 0h1m2 0h2m6 0h2m171 0h2m81 0h2m14 0h2m48 0h1m35 0h1m7 0h3m8 0h1m11 0h5m26 0h4m1 0h1m11 0h1m35 0h6m22 0h1m22 0h7m3 0h2m3 0h3m8 0h3m12 0h2m9 0h2m28 0h3m3 0h5m4 0h3m3 0h3m5 0h1m3 0h5m3 0h4m8 0h1m6 0h4m1 0h3m4 0h4m7 0h3m1 0h2m4 0h3m4 0h5m9 0h1m9 0h1m5 0h5m16 0h2m5 0h3m8 0h5m2 0h4m6 0h6m8 0h2m23 0h1m17 0h2m13 0h4m4 0h1m17 0h6m7 0h2m11 0h1m18 0h1m11 0h3m11 0h1m12 0h5m3 0h4m4 0h1m1 0h5m1 0h5m16 0h4m9 0h12m1 0h3m3 0h4m26 0h2m1 0h1m7 0h1m3 0h1m4 0h5m1 0h3m16 0h3m2 0h3m11 0h4m5 0h4m3 0h2m7 0h4m10 0h1m13 0h1m3 0h2m7 0h1m4 0h2m4 0h9m2 0h2m5 0h10m2 0h3m10 0h3m4 0h1m2 0h7m16 0h3m3 0h4m3 0h5m4 0h5m9 0h1m9 0h1m5 0h5m1 0h2m3 0h10m7 0h1m7 0h4m3 0h2m16 0h1m4 0h2m3 0h5m1 0h3m3 0h2m7 0h3m4 0h4m12 0h6m3 0h3m4 0h2m5 0h5m10 0h2m1 0h5m1 0h2m5 0h2m7 0h2m3 0h2m4 0h11m24 0h7m3 0h2m4 0h3m5 0h7m6 0h3m4 0h3m9 0h13m1 0h1m2 0h1m4 0h5m11 0h2m6 0h2m2 0h5m1 0h6m2 0h2M3 777.0h5m2 0h4m8 0h2m5 0h4m2 0h2m6 0h5m18 0h3m3 0h4m1 0h1m3 0h1m10 0h2m5 0h1m3 0h3m8 0h2m1 0h3m3 0h7m2 0h2m1 0h1m5 0h5m3 0h4m6 0h2m5 0h3m6 0h2m10 0h2m3 0h8m9 0h1m1 0h4m16 0h7m9 0h5m13 0h3m4 0h1m1 0h2m3 0h4m1 0h2m3 0h3m23 0h2m1 0h6m4 0h5m8 0h3m2 0h1m1 0h2m1 0h4m7 0h1m8 0h1m4 0h1m1 0h5m1 0h7m3 0h1m13 0h5m19 0h2m4 0h2m7 0h4m2 0h6m5 0h1m2 0h2m1 0h3m4 0h1m5 0h3m5 0h7m3 0h2m1 0h2m5 0h1m17 0h3m1 0h5m4 0h5m4 0h4m1 0h1m4 0h2m8 0h1m9 0h5m6 0h1m2 0h2m3 0h3m8 0h4m1 0h1m1 0h5m8 0h1m11 0h1m1 0h3m1 0h5m1 0h2m11 0h4m5 0h1m1 0h4m6 0h3m2 0h2m3 0h8m9 0h4m2 0h8m6 0h1m1 0h2m5 0h8m5 0h2m48 0h1m2 0h1m4 0h3m4 0h1m2 0h1m3 0h1m3 0h3m1 0h1m5 0h4m7 0h2m2 0h1m1 0h6m1 0h2m1 0h8m2 0h3m2 0h1m5 0h3m6 0h1m3 0h1m3 0h7m12 0h1m3 0h3m1 0h5m2 0h4m7 0h1m3 0h3m22 0h2m2 0h1m25 0h5m7 0h1m4 0h3m18 0h1m6 0h6m3 0h3m14 0h2m6 0h4m1 0h2m2 0h1m5 0h6m22 0h3m2 0h1m17 0h2m3 0h3m7 0h2m4 0h1m4 0h1m4 0h1m1 0h2m5 0h2m1 0h2m1 0h6m2 0h2m2 0h1m11 0h2m6 0h3m1 0h6m1 0h1m5 0h2m6 0h2m10 0h3m4 0h4m8 0h2m2 0h3m3 0h4m5 0h3m6 0h5m3 0h2m5 0h4m6 0h2m4 0h3m1 0h2m3 0h3m4 0h5m5 0h3m8 0h2m14 0h2m4 0h1m5 0h4m4 0h2m5 0h2m53 0h4m1 0h2m22 0h4m1 0h5m3 0h1m7 0h5m3 0h6m2 0h3m3 0h3m1 0h9m5 0h3m6 0h1m1 0h3m4 0h3m1 0h3m1 0h5m1 0h1m1 0h3m4 0h15m3 0h1m4 0h2m5 0h1m7 0h5m6 0h4m3 0h3m13 0h1m5 0h3m7 0h1m3 0h6m5 0h1m7 0h2m1 0h1m3 0h5m1 0h5m2 0h3m7 0h8m3 0h1m4 0h1m1 0h2m3 0h1m1 0h1m5 0h2m1 0h6m1 0h1M897 780.2h4m1 0h5m3 0h8m3 0h3m4 0h1m2 0h11m2 0h1m1 0h5m8 0h1m3 0h1m4 0h5m2 0h2m4 0h7m15 0h2m1 0h6m2 0h2m1 0h1m2 0h3m3 0h4m14 0h2m2 0h4m1 0h6m1 0h4m9 0h2m7 0h2m10 0h1m1 0h1m8 0h3m1 0h1m1 0h6m6 0h2m7 0h2m1 0h4m1 0h1m16 0h3m2 0h8m12 0h5m2 0h1m4 0h7m1 0h8m3 0h5m3 0h1m31 0h8m3 0h1m6 0h5m5 0h2m1 0h3m2 0h2m1 0h1m4 0h1m8 0h5m4 0h8m2 0h3m10 0h5m2 0h1m3 0h3m1 0h4m2 0h4m6 0h5m12 0h1m16 0h6m2 0h3m2 0h5M988 783.5h3m1 0h8m20 0h3m1 0h2m1 0h5m1 0h2m18 0h2m5 0h3m8 0h5m6 0h6m4 0h1m6 0h5m1 0h6m4 0h1m23 0h5m5 0h1m2 0h4m5 0h1m5 0h8m3 0h8m3 0h3m3 0h5m1 0h8m6 0h2m3 0h2m4 0h3m4 0h5m8 0h5m5 0h4m3 0h1m7 0h1m6 0h1m5 0h6m9 0h1m2 0h3m4 0h3m9 0h2m7 0h11m4 0h9m1 0h1m2 0h6m5 0h1m2 0h6m3 0h1m2 0h3m5 0h1m4 0h6m1 0h5M1128 786.9h1m2 0h10m1 0h3m7 0h2m4 0h4m4 0h1m3 0h4m1 0h5m1 0h1m3 0h13m17 0h1m1 0h3m1 0h4m1 0h2m3 0h12m3 0h2m7 0h1m1 0h3m1 0h9m1 0h1m6 0h1m3 0h1m12 0h1m2 0h1m4 0h1m5 0h3m1 0h10m7 0h6m10 0h4m4 0h3m1 0h1m1 0h1m4 0h2m9 0h2m6 0h5M1233 790.1h2m1 0h6m1 0h2m4 0h3m3 0h2m3 0h1m2 0h2m2 0h2m1 0h3m4 0h1m7 0h3m1 0h5m1 0h1m6 0h2m1 0h1m4 0h3m2 0h6m1 0h8m1 0h7m4 0h1m2 0h1m8 0h4" stroke="#d3d3d3" stroke-width="3.3" fill="none"/>
<path d="M1448 773.6h1m1 0h3m5 0h3m1 0h1m399 0h3m3 0h2m1 0h2m2 0h6m6 0h1m3 0h4m2 0h1m2 0h1m1 0h1m1 0h2m1 0h3m1 0h1m2 0h1m1 0h1m1 0h1m6 0h3m2 0h2m1 0h5m1 0h1m1 0h1m2 0h3m6 0h2m1 0h1m6 0h1m1 0h3m2 0h1m2 0h1m1 0h2m2 0h1m1 0h1m1 0h1m1 0h1m1 0h4m1 0h1m4 0h2m1 0h1m1 0h2m1 0h3m3 0h2m2 0h1m2 0h1m1 0h3m1 0h1m1 0h1m2 0h1m3 0h1m1 0h1m1 0h2m1 0h2m2 0h4m6 0h1m5 0h3m2 0h1m2 0h1m1 0h2m3 0h2m6 0h1m2 0h1m1 0h1m2 0h3m1 0h9m4 0h1m3 0h1m2 0h1m1 0h1m1 0h1m1 0h3m2 0h1m3 0h1m2 0h2m2 0h1m3 0h3m2 0h1m3 0h1m2 0h1m3 0h1m1 0h1m1 0h4m1 0h2m2 0h1m2 0h5m1 0h1m1 0h1m1 0h3m2 0h3m3 0h1m1 0h1m3 0h2m3 0h3m1 0h1m1 0h3m1 0h1m3 0h1m1 0h1m4 0h1m2 0h3m2 0h1m1 0h1m1 0h1m1 0h1m1 0h1m2 0h1m1 0h2m2 0h1m2 0h1m5 0h1m2 0h1m1 0h2m1 0h1m2 0h1m2 0h3m1 0h1m2 0h1m9 0h1m2 0h1m1 0h3m2 0h1m1 0h1m1 0h2m2 0h1m3 0h1m1 0h3m1 0h1m1 0h1m1 0h2m2 0h2m1 0h1m1 0h2m1 0h1m1 0h6m4 0h1m1 0h2m1 0h7m1 0h3m2 0h1m1 0h1m1 0h1m1 0h1m2 0h1m3 0h1m5 0h2m1 0h1m1 0h1m7 0h1m2 0h2m1 0h3m8 0h1m2 0h4m3 0h1m2 0h2m3 0h1m2 0h1m2 0h2m7 0h2m4 0h1m1 0h1m9 0h1m4 0h3m2 0h3m1 0h2m3 0h2m3 0h2m1 0h2m3 0h1m1 0h1m1 0h1m1 0h1m2 0h1m7 0h1m1 0h1m1 0h1m2 0h5m1 0h1m1 0h2m1 0h1m5 0h1m1 0h1m5 0h1m3 0h1m1 0h3m1 0h2m1 0h4m1 0h5m1 0h1m1 0h1m1 0h2m1 0h1m4 0h1m1 0h1m1 0h2m1 0h1m3 0h1m2 0h1m4 0h2m3 0h2m1 0h1m1 0h1m2 0h1m3 0h3m1 0h1m1 0h1m2 0h1m1 0h1m1 0h1m3 0h1m1 0h1m1 0h2m2 0h1m1 0h1m3 0h1m2 0h3m4 0h6m2 0h1m1 0h1m1 0h5m2 0h2m3 0h1m6 0h13m2 0h1m1 0h1m1 0h2m2 0h3m2 0h1m1 0h7m1 0h1m1 0h2m1 0h1m1 0h1m2 0h1m2 0h1m1 0h2m3 0h1m7 0h2m6 0h3m2 0h5m2 0h1m1 0h2m4 0h1m3 0h1m3 0h1m1 0h4m1 0h2m2 0h5m4 0h1m1 0h1m2 0h1m7 0h6m1 0h1m2 0h1m2 0h1m3 0h1m1 0h1m1 0h2m3 0h1m1 0h1m1 0h2m1 0h3m2 0h1m1 0h1m1 0h3m2 0h1m3 0h1m2 0h1M763 777.0h1m2 0h1m1 0h1m3 0h1m1 0h1m1 0h3m1 0h2m1 0h1m2 0h1m1 0h5m1 0h1m1 0h2m1 0h3m2 0h1m2 0h1m628 0h2m5 0h1m1 0h3m8 0h1m2 0h1m2 0h1m2 0h1m5 0h1m1 0h5m322 0h2m2 0h1m1 0h1m1 0h3m2 0h4m1 0h1m1 0h1m4 0h1m1 0h1m6 0h1m4 0h2m1 0h1m2 0h1m2 0h3m2 0h2m1 0h1m2 0h1m2 0h1m4 0h1m4 0h5m7 0h1m2 0h1m1 0h1m1 0h1m2 0h1m1 0h1m1 0h1m1 0h3m3 0h3m3 0h1m10 0h1m5 0h1m6 0h4m8 0h1m1 0h2m4 0h2m1 0h1m1 0h1m3 0h1m2 0h2m3 0h1m3 0h1m2 0h1m1 0h1m1 0h3m2 0h2m1 0h2m3 0h1m7 0h2m8 0h2m1 0h1m1 0h1m1 0h2m1 0h1m1 0h1m3 0h2m2 0h1m1 0h1m3 0h2m3 0h1m5 0h1m7 0h2m7 0h1m1 0h3m1 0h4m3 0h1m4 0h1m1 0h2m2 0h2m3 0h2m7 0h1m2 0h1m5 0h1m1 0h1m2 0h1m6 0h1m4 0h1m5 0h2m3 0h1m9 0h2m3 0h1m1 0h1m2 0h2m4 0h1m1 0h2m2 0h2m1 0h2m1 0h1m7 0h5m6 0h1m5 0h1m2 0h3m5 0h1m2 0h2m3 0h2m1 0h2m1 0h2m3 0h1m1 0h2m4 0h2m5 0h1m3 0h1m2 0h1m4 0h2m2 0h2m6 0h1m1 0h2m3 0h2m4 0h1m5 0h1m4 0h1m2 0h3m1 0h3m2 0h1m2 0h1m1 0h1m5 0h1m2 0h1m1 0h1m3 0h1m3 0h1m2 0h1m2 0h1m3 0h1m2 0h2m6 0h3m2 0h1m4 0h1m7 0h1m1 0h1m1 0h1m2 0h2m3 0h1m1 0h1m2 0h1m4 0h1m2 0h1m1 0h1m13 0h1m6 0h1m4 0h1m3 0h1m9 0h1m1 0h2m5 0h1m3 0h4m3 0h2m8 0h3m1 0h1m2 0h1m8 0h2m2 0h1m7 0h1m3 0h1m1 0h1m2 0h2m2 0h2m2 0h1m6 0h1m3 0h2m2 0h1m16 0h3m4 0h1m1 0h2m2 0h2m1 0h1m1 0h1m6 0h3m2 0h2m2 0h1m4 0h1m8 0h2m1 0h1m1 0h4m1 0h1m2 0h1m2 0h1m3 0h2m1 0h1m3 0h1m2 0h1m2 0h1m1 0h1m2 0h1m6 0h1m4 0h2m1 0h1m4 0h3m3 0h1m1 0h1m3 0h1m1 0h1m2 0h1m2 0h1m3 0h1m1 0h1m1 0h1m1 0h1m2 0h1m1 0h1m8 0h1m4 0h1m1 0h1m1 0h3m1 0h1m7 0h1m4 0h1m1 0h1m7 0h1m3 0h2m2 0h2m8 0h1m4 0h1m3 0h1m1 0h3m1 0h1m6 0h3m1 0h2m1 0h2m5 0h1m4 0h1m1 0h2m4 0h1m4 0h1m3 0h2m3 0h1m9 0h1m4 0h2m2 0h1m5 0h1m1 0h1m1 0h1m3 0h2m4 0h1m6 0h1m3 0h1m5 0h2M1 780.2h4m1 0h2m2 0h1m5 0h1m7 0h1m2 0h1m3 0h1m1 0h1m6 0h1m1 0h1m1 0h1m2 0h1m2 0h1m2 0h2m2 0h1m2 0h1m2 0h2m1 0h1m2 0h1m11 0h1m1 0h1m4 0h2m1 0h1m1 0h2m3 0h1m1 0h1m11 0h1m2 0h1m3 0h1m7 0h1m1 0h1m1 0h1m3 0h1m2 0h1m2 0h1m2 0h1m13 0h1m6 0h2m3 0h4m2 0h2m4 0h1m3 0h1m2 0h1m9 0h5m1 0h1m6 0h1m7 0h2m1 0h4m3 0h2m17 0h1m7 0h1m1 0h2m1 0h1m1 0h2m3 0h1m5 0h1m1 0h1m1 0h1m1 0h1m4 0h1m4 0h1m6 0h1m1 0h1m3 0h1m8 0h2m8 0h1m1 0h1m1 0h1m3 0h2m4 0h1m9 0h1m1 0h1m1 0h2m1 0h1m3 0h1m8 0h2m10 0h2m2 0h1m2 0h1m2 0h1m2 0h1m2 0h2m2 0h1m6 0h2m1 0h1m8 0h1m2 0h1m2 0h1m1 0h2m6 0h1m6 0h1m1 0h1m2 0h1m10 0h1m7 0h1m3 0h1m9 0h1m2 0h1m6 0h1m3 0h1m3 0h1m1 0h1m1 0h1m7 0h1m7 0h1m17 0h1m7 0h1m7 0h1m8 0h1m2 0h1m5 0h1m3 0h1m10 0h1m6 0h1m8 0h1m9 0h1m13 0h1m5 0h1m1 0h1m3 0h1m10 0h2m9 0h1m1 0h1m2 0h2m3 0h1m1 0h1m5 0h1m2 0h1m7 0h1m8 0h1m1 0h1m8 0h1m15 0h1m2 0h1m2 0h2m21 0h1m9 0h1m2 0h1m23 0h1m6 0h1m15 0h1m8 0h1m3 0h1m6 0h1m5 0h1m1 0h1m7 0h2m15 0h3m6 0h1m4 0h2m1 0h1m4 0h1m1 0h2m2 0h3m527 0h1m2 0h3m2 0h1m2 0h1m3 0h1m5 0h1m18 0h1m1 0h3m1 0h1m7 0h1m1 0h1m1 0h3m6 0h1m5 0h3m1 0h3m1 0h2m1 0h1m2 0h1m3 0h1m3 0h1m2 0h3m3 0h7m1 0h2m2 0h1m1 0h2m1 0h1m3 0h2m2 0h2m1 0h4m3 0h2m4 0h1m2 0h2m1 0h2m1 0h2m2 0h1m1 0h1m3 0h3m1 0h3m1 0h7m1 0h1m2 0h1m1 0h2m4 0h1m4 0h1m1 0h1m1 0h1m3 0h1m2 0h2m2 0h2m1 0h2m4 0h1m2 0h1m8 0h3m3 0h5m2 0h1m3 0h1m5 0h1m1 0h2m1 0h2m1 0h1m4 0h1m1 0h1m3 0h2m6 0h3m2 0h1m1 0h3m4 0h1m8 0h5m1 0h1m1 0h1m1 0h3m1 0h1m2 0h1m2 0h1m11 0h6m3 0h1m1 0h1m2 0h2m3 0h1m3 0h1m1 0h1m2 0h1m3 0h1m1 0h1m2 0h1m2 0h2m4 0h1m1 0h4m1 0h2m2 0h2m3 0h2m3 0h1m1 0h1m4 0h1m1 0h1m4 0h2m1 0h1m1 0h2m1 0h2m1 0h1m3 0h1m9 0h1m3 0h1m2 0h2m7 0h1m2 0h1m12 0h1m8 0h1m3 0h3m1 0h1m3 0h1m1 0h1m4 0h1m5 0h1m2 0h1m3 0h2m10 0h1m4 0h1m6 0h2m5 0h1m4 0h1m1 0h3m1 0h1m2 0h1m2 0h1m1 0h3m8 0h1m3 0h1m1 0h1m2 0h2m1 0h1m1 0h1m1 0h2m3 0h2m6 0h2m5 0h3m4 0h1m3 0h1m9 0h1m6 0h1m2 0h2m1 0h2m2 0h1m2 0h1m4 0h1m2 0h2m1 0h2m2 0h1m1 0h3m2 0h1m4 0h1m1 0h1m6 0h1m1 0h1m2 0h1m7 0h3m4 0h1m4 0h1m1 0h1m5 0h1m2 0h1m6 0h1m3 0h1m4 0h3m1 0h2m15 0h1m2 0h2m2 0h1m4 0h1m1 0h3m1 0h2m4 0h2m3 0h2m6 0h1m3 0h1m1 0h1m3 0h1m1 0h1m1 0h1m3 0h3m1 0h2m2 0h2m4 0h1m1 0h1m2 0h3m3 0h1m10 0h2m2 0h1m3 0h1m2 0h1m3 0h1m1 0h1m1 0h2m2 0h2m2 0h1m2 0h1m8 0h2m3 0h2m2 0h2m3 0h2m4 0h1m1 0h1m6 0h2m3 0h2m2 0h2m5 0h1m3 0h1m4 0h1m1 0h1m2 0h1m2 0h1m3 0h1m2 0h1m8 0h1m5 0h2m1 0h1m3 0h1m2 0h2m1 0h1m2 0h1m7 0h1m2 0h1m6 0h2m13 0h1m1 0h2m1 0h1m7 0h1m2 0h1m1 0h1m4 0h1m18 0h2m3 0h4m10 0h1m2 0h2m5 0h2m1 0h2m1 0h3m2 0h2m4 0h2m6 0h2m4 0h4m3 0h2m1 0h2m1 0h1m5 0h1m5 0h1m1 0h1m4 0h1m2 0h1m3 0h1m1 0h1m3 0h1m6 0h1m6 0h1m2 0h3m2 0h2m5 0h1m1 0h1m1 0h1m4 0h1m2 0h1m1 0h2m11 0h1m2 0h1m3 0h1m1 0h1m1 0h1m1 0h1m4 0h5m1 0h1m3 0h1m3 0h1m6 0h1m3 0h1m1 0h1m2 0h1m1 0h3m3 0h1m1 0h2m1 0h1m1 0h1m4 0h1m4 0h3m2 0h1m9 0h1m3 0h1m2 0h3m1 0h1m3 0h1m1 0h2m1 0h1m2 0h1m3 0h1m1 0h1m15 0h1m1 0h1m4 0h2m3 0h2m2 0h1m4 0h1m4 0h1m3 0h2m4 0h2m3 0h1m7 0h2m4 0h1m1 0h1m3 0h1m7 0h1m5 0h1m2 0h1m4 0h2m2 0h1M0 783.5h1m14 0h1m1 0h1m4 0h1m5 0h1m4 0h1m7 0h3m1 0h1m5 0h2m1 0h1m2 0h1m11 0h1m8 0h2m12 0h1m15 0h2m8 0h1m12 0h1m1 0h2m8 0h1m7 0h1m1 0h1m1 0h1m16 0h2m3 0h1m8 0h1m6 0h1m14 0h1m3 0h1m10 0h1m4 0h1m13 0h1m6 0h1m7 0h1m13 0h1m1 0h1m2 0h1m4 0h1m25 0h1m6 0h1m10 0h1m5 0h1m3 0h1m1 0h2m4 0h1m1 0h1m2 0h1m8 0h1m12 0h1m3 0h1m17 0h1m4 0h1m13 0h1m7 0h1m3 0h2m4 0h1m4 0h1m2 0h1m6 0h1m8 0h1m6 0h1m6 0h1m12 0h2m2 0h5m4 0h1m9 0h5m2 0h6m5 0h4m8 0h3m1 0h1m4 0h1m8 0h1m5 0h1m14 0h1m1 0h1m2 0h2m9 0h2m14 0h3m20 0h1m12 0h2m1 0h1m12 0h3m3 0h1m1 0h1m3 0h2m6 0h1m6 0h1m1 0h1m11 0h1m3 0h2m1 0h1m2 0h1m8 0h1m4 0h1m5 0h1m6 0h1m3 0h1m5 0h1m27 0h1m4 0h1m4 0h1m10 0h1m22 0h1m7 0h1m6 0h1m3 0h1m16 0h1m6 0h1m32 0h1m28 0h1m10 0h2m4 0h1m1 0h1m3 0h1m2 0h1m5 0h2m4 0h1m1 0h1m2 0h1m4 0h2m1 0h1m1 0h4m1 0h2m430 0h2m3 0h2m5 0h1m6 0h1m4 0h2m7 0h2m1 0h1m10 0h1m4 0h1m6 0h1m2 0h2m3 0h1m2 0h1m2 0h1m1 0h1m8 0h1m1 0h2m1 0h1m1 0h2m3 0h2m2 0h1m3 0h4m6 0h2m1 0h5m4 0h3m1 0h3m1 0h1m5 0h1m2 0h1m3 0h4m1 0h1m1 0h3m2 0h2m8 0h1m2 0h1m3 0h1m1 0h1m1 0h1m2 0h2m2 0h1m3 0h2m1 0h1m8 0h1m1 0h1m1 0h1m2 0h1m2 0h1m11 0h1m3 0h1m1 0h1m2 0h2m2 0h1m11 0h1m5 0h1m3 0h4m1 0h1m2 0h1m6 0h2m3 0h3m2 0h1m1 0h1m5 0h5m2 0h2m3 0h2m2 0h1m1 0h1m2 0h1m3 0h1m1 0h3m1 0h2m1 0h1m1 0h2m3 0h1m1 0h3m3 0h1m13 0h1m1 0h1m2 0h1m1 0h1m4 0h2m4 0h3m2 0h4m4 0h2m2 0h1m5 0h1m1 0h3m2 0h7m3 0h2m5 0h1m2 0h2m1 0h1m2 0h3m1 0h3m3 0h2m2 0h2m1 0h1m3 0h2m1 0h2m4 0h1m3 0h2m7 0h2m2 0h1m10 0h1m13 0h1m3 0h2m1 0h1m6 0h1m1 0h1m2 0h1m5 0h2m2 0h1m1 0h1m7 0h2m5 0h1m3 0h1m1 0h2m3 0h1m1 0h1m1 0h3m2 0h1m3 0h2m1 0h1m2 0h2m1 0h1m3 0h1m1 0h2m2 0h2m1 0h2m1 0h2m1 0h1m2 0h2m1 0h2m6 0h1m1 0h1m14 0h1m1 0h1m1 0h1m2 0h1m2 0h1m2 0h1m11 0h2m5 0h1m2 0h3m6 0h2m1 0h2m4 0h2m1 0h2m9 0h1m4 0h1m1 0h2m4 0h3m6 0h2m2 0h1m2 0h1m1 0h1m2 0h1m1 0h1m3 0h1m1 0h1m3 0h1m3 0h1m8 0h1m1 0h1m4 0h2m3 0h1m1 0h1m1 0h2m1 0h1m1 0h1m1 0h1m4 0h2m3 0h2m5 0h1m2 0h1m6 0h1m3 0h1m9 0h2m6 0h1m1 0h1m8 0h2m1 0h2m7 0h1m11 0h1m4 0h1m1 0h1m4 0h1m7 0h1m9 0h1m10 0h1m1 0h1m6 0h1m3 0h1m1 0h1m2 0h1m2 0h1m2 0h1m1 0h1m3 0h1m2 0h1m2 0h2m2 0h1m1 0h2m1 0h1m1 0h1m9 0h2m1 0h1m2 0h1m1 0h2m6 0h1m1 0h1m9 0h2m2 0h2m2 0h1m4 0h1m2 0h1m2 0h2m3 0h1m1 0h2m4 0h2m5 0h1m1 0h1m16 0h2m1 0h2m4 0h1m3 0h1m5 0h1m4 0h2m6 0h1m5 0h1m8 0h3m1 0h3m1 0h1m3 0h1m3 0h2m6 0h2m2 0h1m4 0h3m14 0h4m4 0h1m3 0h1m1 0h1m4 0h1m7 0h2m8 0h1m3 0h1m2 0h1m14 0h2m1 0h1m6 0h1m16 0h1m4 0h1m7 0h3m7 0h1m3 0h1m22 0h1m2 0h1m1 0h1m3 0h1m1 0h1m4 0h1m1 0h2m2 0h1m4 0h1m3 0h1m4 0h2m2 0h1m2 0h2m3 0h1m2 0h1m2 0h2m1 0h1m4 0h1m1 0h1m4 0h1m6 0h1m12 0h2m1 0h2m5 0h1m2 0h2m3 0h1m3 0h1m2 0h1m11 0h4m3 0h1m15 0h1m1 0h3m8 0h3m2 0h2m2 0h1m1 0h1m3 0h2M2 786.9h1m6 0h1m26 0h1m17 0h1m7 0h1m1 0h1m11 0h2m1 0h1m2 0h1m4 0h1m2 0h1m8 0h1m14 0h1m2 0h2m18 0h3m3 0h1m2 0h1m16 0h1m14 0h1m18 0h1m2 0h2m7 0h1m52 0h1m3 0h1m22 0h1m3 0h2m1 0h1m11 0h1m10 0h1m51 0h1m36 0h1m8 0h1m10 0h1m3 0h1m4 0h1m7 0h1m10 0h1m6 0h1m5 0h2m7 0h1m1 0h4m3 0h3m4 0h3m2 0h8m7 0h2m1 0h4m1 0h9m2 0h6m2 0h1m16 0h1m9 0h1m7 0h1m5 0h1m4 0h1m7 0h1m1 0h1m4 0h1m14 0h1m14 0h1m2 0h1m2 0h1m12 0h1m3 0h1m20 0h1m13 0h2m9 0h1m7 0h1m7 0h1m16 0h1m2 0h1m21 0h1m3 0h1m6 0h1m1 0h1m13 0h1m44 0h1m19 0h1m19 0h1m17 0h1m40 0h1m24 0h2m1 0h1m7 0h1m13 0h1m7 0h1m3 0h1m6 0h1m4 0h1m3 0h1m1 0h1m4 0h1m1 0h2m1 0h1m3 0h3m3 0h1m5 0h1m1 0h1m3 0h1m1 0h1m2 0h2m4 0h2m3 0h2m3 0h1m3 0h2m2 0h1m5 0h1m4 0h1m1 0h1m3 0h1m1 0h1m2 0h4m1 0h4m2 0h2m1 0h4m1 0h4m1 0h1m1 0h1m1 0h1m1 0h3m263 0h1m3 0h1m3 0h3m3 0h1m2 0h1m3 0h1m3 0h2m5 0h1m7 0h1m5 0h1m6 0h1m2 0h1m12 0h1m1 0h1m1 0h1m1 0h1m8 0h2m5 0h1m6 0h1m1 0h1m5 0h2m1 0h1m5 0h1m1 0h1m2 0h1m8 0h1m3 0h1m1 0h1m1 0h1m5 0h1m1 0h1m2 0h1m3 0h1m1 0h1m2 0h2m1 0h1m4 0h1m3 0h1m3 0h3m2 0h1m2 0h1m1 0h1m10 0h1m1 0h1m1 0h4m1 0h1m15 0h1m5 0h1m1 0h2m1 0h1m5 0h1m1 0h2m2 0h2m9 0h3m3 0h1m1 0h1m2 0h1m4 0h1m2 0h1m6 0h2m2 0h1m6 0h3m3 0h1m2 0h1m3 0h1m1 0h4m1 0h1m1 0h1m1 0h2m1 0h2m2 0h2m5 0h4m2 0h1m7 0h1m6 0h1m7 0h1m2 0h1m4 0h6m10 0h1m3 0h1m1 0h1m2 0h1m5 0h1m1 0h3m13 0h1m4 0h1m5 0h1m2 0h1m7 0h1m3 0h1m1 0h1m8 0h1m4 0h1m7 0h2m4 0h2m1 0h1m1 0h1m7 0h1m3 0h2m3 0h1m1 0h1m4 0h3m3 0h1m3 0h1m1 0h2m1 0h2m5 0h1m2 0h1m4 0h1m7 0h1m4 0h1m2 0h1m2 0h1m16 0h1m4 0h1m6 0h2m8 0h1m7 0h2m2 0h2m2 0h1m1 0h2m1 0h1m1 0h2m1 0h1m1 0h2m3 0h2m2 0h3m4 0h1m11 0h1m4 0h1m2 0h1m4 0h1m3 0h1m1 0h1m5 0h1m3 0h1m1 0h1m6 0h1m1 0h1m2 0h1m7 0h1m1 0h1m3 0h1m8 0h1m6 0h1m1 0h1m6 0h1m1 0h1m7 0h1m1 0h1m7 0h1m2 0h1m8 0h1m1 0h2m4 0h1m5 0h1m3 0h4m3 0h1m4 0h1m1 0h1m15 0h1m1 0h1m2 0h2m6 0h2m11 0h3m1 0h3m1 0h1m1 0h2m2 0h1m1 0h1m5 0h1m1 0h2m9 0h1m1 0h2m2 0h1m1 0h2m4 0h1m19 0h2m4 0h1m4 0h2m2 0h2m15 0h1m5 0h3m3 0h1m1 0h1m1 0h1m1 0h1m1 0h2m7 0h1m1 0h1m2 0h3m4 0h1m3 0h3m11 0h1m1 0h1m1 0h2m2 0h2m14 0h2m5 0h1m8 0h2m5 0h1m2 0h1m2 0h2m1 0h1m2 0h1m8 0h1m1 0h1m10 0h2m3 0h1m10 0h1m1 0h3m6 0h1m1 0h1m1 0h1m8 0h2m12 0h1m3 0h1m4 0h1m2 0h1m6 0h4m2 0h2m2 0h1m3 0h1m11 0h1m7 0h1m1 0h1m11 0h1m1 0h1m1 0h1m3 0h1m7 0h1m8 0h1m5 0h1m12 0h1m3 0h5m3 0h2m11 0h1m1 0h1m1 0h1m3 0h1m1 0h1m5 0h1m4 0h2m3 0h1m2 0h1m6 0h1m4 0h1m6 0h1m13 0h1m19 0h1m5 0h1m5 0h1m3 0h1m1 0h1m7 0h1m8 0h1m2 0h1m1 0h1m1 0h1m10 0h1m3 0h1m1 0h1m2 0h1m4 0h1m8 0h1m1 0h1m3 0h1m8 0h1m5 0h1m5 0h1m3 0h2m1 0h2m4 0h1m9 0h1m8 0h1m7 0h1m1 0h1M4 790.1h1m1 0h1m13 0h1m3 0h1m10 0h1m20 0h1m11 0h1m29 0h1m13 0h1m2 0h1m22 0h1m11 0h1m2 0h1m12 0h1m7 0h1m13 0h1m1 0h1m13 0h1m5 0h1m7 0h1m3 0h1m2 0h2m9 0h1m1 0h2m45 0h1m10 0h1m5 0h1m12 0h1m22 0h1m3 0h1m1 0h2m8 0h1m13 0h1m4 0h1m3 0h1m1 0h1m5 0h1m3 0h1m2 0h1m3 0h1m13 0h1m4 0h1m28 0h1m26 0h1m2 0h1m5 0h7m2 0h3m8 0h1m1 0h1m1 0h1m7 0h9m1 0h1m1 0h2m1 0h2m3 0h3m2 0h1m1 0h1m1 0h1m9 0h1m11 0h1m5 0h1m1 0h1m38 0h1m12 0h1m6 0h1m9 0h1m4 0h1m6 0h1m14 0h1m11 0h1m5 0h2m6 0h1m5 0h1m1 0h1m2 0h1m2 0h1m16 0h1m2 0h1m9 0h1m2 0h1m11 0h1m38 0h1m14 0h1m45 0h1m6 0h1m55 0h1m6 0h1m2 0h1m31 0h1m8 0h1m2 0h1m27 0h1m4 0h1m5 0h1m5 0h1m2 0h1m9 0h1m10 0h1m3 0h3m2 0h1m8 0h1m4 0h3m12 0h1m5 0h1m14 0h1m1 0h1m4 0h1m8 0h1m4 0h3m6 0h1m2 0h1m2 0h1m1 0h1m2 0h1m2 0h2m1 0h1m2 0h1m3 0h2m1 0h3m1 0h1m2 0h1m3 0h2m1 0h1m1 0h2m12 0h1m1 0h1m2 0h1m2 0h1m2 0h1m8 0h1m1 0h1m2 0h2m3 0h1m2 0h2m1 0h2m1 0h1m4 0h1m1 0h1m135 0h1m3 0h1m2 0h2m3 0h1m1 0h1m3 0h1m1 0h1m1 0h3m4 0h1m5 0h2m12 0h1m7 0h4m9 0h1m6 0h1m4 0h1m3 0h1m3 0h1m3 0h1m3 0h1m2 0h1m1 0h1m1 0h1m5 0h1m6 0h1m4 0h1m1 0h1m2 0h2m3 0h1m1 0h2m4 0h1m1 0h1m3 0h3m2 0h1m5 0h1m1 0h1m5 0h2m5 0h1m2 0h1m6 0h1m6 0h1m5 0h2m1 0h1m6 0h1m2 0h2m1 0h2m1 0h3m3 0h1m2 0h1m3 0h1m1 0h1m2 0h2m3 0h2m6 0h1m3 0h2m5 0h2m1 0h2m3 0h1m3 0h6m4 0h1m2 0h2m6 0h2m1 0h1m4 0h1m7 0h1m5 0h1m2 0h1m1 0h1m2 0h2m3 0h1m3 0h5m7 0h1m8 0h1m2 0h3m1 0h3m2 0h1m5 0h5m1 0h1m5 0h1m7 0h1m2 0h1m4 0h1m4 0h1m4 0h1m1 0h1m1 0h1m1 0h1m1 0h1m3 0h1m1 0h1m2 0h1m1 0h1m5 0h1m4 0h1m2 0h1m2 0h2m3 0h1m2 0h1m10 0h1m2 0h2m1 0h1m1 0h1m2 0h1m2 0h1m3 0h1m2 0h2m1 0h2m4 0h3m2 0h3m3 0h1m3 0h1m5 0h1m2 0h1m1 0h1m2 0h1m3 0h1m6 0h2m2 0h1m4 0h1m1 0h2m1 0h1m7 0h1m4 0h1m4 0h1m6 0h1m1 0h1m6 0h3m3 0h1m1 0h2m6 0h1m3 0h1m6 0h1m1 0h1m1 0h1m1 0h1m2 0h1m1 0h2m5 0h1m1 0h1m1 0h1m14 0h1m4 0h2m1 0h1m12 0h1m6 0h1m2 0h2m5 0h2m4 0h1m2 0h1m2 0h1m3 0h1m5 0h1m2 0h1m2 0h1m2 0h1m2 0h1m1 0h1m3 0h2m1 0h1m3 0h1m3 0h1m3 0h2m1 0h2m11 0h1m2 0h1m1 0h2m6 0h1m1 0h1m6 0h1m1 0h1m5 0h1m10 0h2m5 0h1m4 0h1m18 0h1m3 0h1m3 0h1m11 0h2m2 0h2m3 0h1m1 0h1m12 0h1m4 0h1m3 0h2m1 0h1m1 0h1m4 0h1m3 0h1m19 0h1m1 0h1m5 0h1m4 0h1m1 0h1m4 0h1m2 0h1m1 0h1m4 0h1m12 0h2m5 0h3m9 0h1m14 0h3m15 0h2m7 0h1m3 0h1m4 0h1m1 0h1m7 0h2m8 0h1m3 0h1m16 0h1m9 0h2m7 0h1m1 0h1m7 0h1m3 0h1m4 0h1m7 0h1m2 0h1m2 0h1m9 0h1m4 0h1m9 0h1m1 0h1m7 0h1m7 0h3m6 0h1m1 0h1m1 0h1m4 0h1m9 0h1m1 0h2m2 0h1m2 0h2m4 0h1m2 0h1m1 0h2m2 0h1m10 0h1m5 0h1m1 0h1m2 0h2m4 0h1m4 0h1m26 0h1m3 0h2m1 0h1m1 0h2m5 0h2m1 0h1m3 0h2m9 0h1m7 0h1m7 0h1m4 0h1m1 0h1m3 0h1m2 0h2m2 0h1m3 0h1m3 0h1m2 0h1m1 0h2m5 0h1m2 0h1m5 0h1m1 0h1m2 0h1m5 0h1m2 0h2m2 0h1m6 0h1m12 0h2m15 0h1m1 0h1m4 0h1m2 0h1m5 0h1m1 0h1m4 0h1m12 0h1m1 0h3m15 0h1m1 0h1m4 0h1m3 0h1m3 0h2m1 0h1m4 0h1M2 793.5h1m18 0h1m19 0h1m2 0h1m13 0h1m5 0h1m5 0h1m39 0h1m29 0h1m30 0h1m10 0h1m8 0h1m19 0h1m60 0h1m7 0h1m5 0h1m7 0h1m22 0h1m21 0h1m56 0h2m6 0h1m16 0h1m53 0h1m1 0h1m3 0h3m5 0h2m3 0h2m3 0h9m12 0h5m10 0h2m1 0h1m23 0h1m2 0h1m22 0h1m9 0h1m12 0h1m8 0h1m17 0h1m1 0h1m23 0h1m27 0h1m2 0h1m17 0h1m2 0h1m82 0h1m54 0h1m21 0h1m69 0h2m33 0h1m3 0h2m4 0h2m1 0h1m2 0h1m7 0h1m7 0h1m4 0h1m7 0h1m4 0h1m2 0h1m15 0h1m3 0h1m4 0h1m12 0h1m11 0h1m5 0h1m6 0h1m4 0h1m3 0h1m1 0h1m2 0h1m9 0h1m1 0h1m2 0h2m24 0h1m1 0h1m2 0h1m1 0h1m20 0h1m1 0h1m10 0h1m1 0h2m9 0h1m3 0h1m2 0h1m5 0h2m1 0h1m4 0h1m7 0h4m1 0h2m1 0h1m2 0h2m2 0h1m2 0h1m7 0h2m1 0h2m3 0h1m1 0h2m4 0h1m1 0h1m2 0h1m1 0h3m1 0h1m1 0h1m1 0h1m1 0h2m3 0h1m1 0h2m1 0h1m1 0h1m3 0h1m1 0h1m9 0h2m1 0h2m2 0h1m2 0h1m2 0h3m1 0h1m1 0h3m4 0h5m2 0h1m1 0h2m1 0h1m5 0h1m7 0h1m1 0h2m1 0h2m2 0h1m16 0h1m16 0h1m39 0h1m19 0h1m1 0h1m3 0h1m7 0h1m1 0h1m6 0h2m2 0h1m6 0h1m2 0h2m5 0h1m1 0h1m3 0h2m7 0h1m1 0h2m1 0h1m4 0h1m4 0h1m4 0h1m3 0h2m1 0h1m9 0h1m8 0h2m5 0h1m5 0h1m11 0h1m1 0h1m8 0h1m14 0h1m3 0h1m1 0h1m1 0h1m2 0h1m5 0h1m14 0h2m2 0h1m2 0h1m4 0h1m3 0h1m1 0h2m8 0h1m2 0h1m2 0h1m2 0h1m6 0h1m4 0h1m1 0h1m3 0h2m1 0h1m6 0h1m3 0h1m2 0h1m3 0h2m4 0h3m6 0h1m1 0h1m3 0h1m1 0h1m2 0h3m13 0h3m4 0h1m3 0h1m25 0h1m10 0h1m1 0h1m1 0h2m1 0h1m3 0h1m2 0h2m4 0h2m3 0h1m1 0h1m8 0h1m12 0h1m4 0h1m7 0h1m2 0h1m2 0h1m2 0h1m2 0h1m13 0h1m1 0h1m2 0h1m2 0h1m2 0h2m9 0h2m4 0h1m3 0h1m2 0h3m3 0h2m1 0h1m4 0h1m2 0h2m2 0h2m10 0h1m2 0h1m6 0h1m6 0h3m2 0h1m5 0h1m15 0h2m3 0h2m5 0h1m12 0h1m2 0h1m3 0h1m4 0h1m2 0h1m12 0h1m1 0h1m3 0h2m5 0h1m2 0h1m2 0h1m6 0h1m4 0h1m1 0h2m2 0h1m9 0h1m1 0h1m1 0h4m2 0h1m2 0h1m5 0h2m6 0h2m4 0h1m2 0h2m4 0h1m3 0h1m5 0h1m1 0h2m6 0h1m3 0h1m4 0h1m15 0h1m11 0h1m8 0h1m1 0h1m1 0h1m1 0h1m1 0h2m7 0h1m5 0h1m8 0h1m12 0h3m6 0h1m5 0h1m21 0h1m5 0h2m1 0h1m6 0h1m12 0h1m9 0h1m2 0h1m1 0h2m9 0h1m1 0h1m7 0h1m11 0h2m5 0h1m18 0h1m7 0h1m3 0h3m1 0h1m8 0h1m2 0h1m3 0h1m3 0h1m2 0h1m1 0h1m2 0h1m2 0h2m1 0h1m7 0h1m1 0h1m5 0h1m2 0h1m10 0h1m14 0h3m4 0h1m2 0h1m27 0h1m5 0h1m12 0h1m3 0h1m32 0h1m11 0h1m1 0h1m3 0h1m9 0h1m5 0h1m2 0h1m4 0h1m11 0h1m1 0h2m19 0h1m2 0h1m5 0h1m3 0h1m3 0h1m21 0h1m1 0h1m5 0h1m2 0h1m19 0h1m8 0h1m8 0h1m1 0h1m1 0h2m2 0h1m6 0h1m3 0h1m24 0h1m5 0h1m2 0h1m9 0h2m9 0h1m2 0h1m2 0h1m3 0h2m2 0h1m8 0h1M33 796.8h1m6 0h1m61 0h1m9 0h1m57 0h1m152 0h1m32 0h1m62 0h1m57 0h3m4 0h1m1 0h2m2 0h1m1 0h2m2 0h5m7 0h2m6 0h4m4 0h5m4 0h3m1 0h1m2 0h1m32 0h1m29 0h1m278 0h1m12 0h1m107 0h1m14 0h1m15 0h1m1 0h1m2 0h2m1 0h1m14 0h1m16 0h1m21 0h1m9 0h1m2 0h1m12 0h1m8 0h1m2 0h1m8 0h2m10 0h1m10 0h1m4 0h1m2 0h1m14 0h1m3 0h1m5 0h1m4 0h1m10 0h2m8 0h1m3 0h1m3 0h1m25 0h1m3 0h2m1 0h1m2 0h1m6 0h1m15 0h1m3 0h1m10 0h1m14 0h2m6 0h1m1 0h1m3 0h2m11 0h1m5 0h1m11 0h1m2 0h1m5 0h1m4 0h1m13 0h1m16 0h1m10 0h1m15 0h2m12 0h1m8 0h2m7 0h1m2 0h1m1 0h2m7 0h2m2 0h2m3 0h1m11 0h1m4 0h1m1 0h1m4 0h1m11 0h1m7 0h1m1 0h1m1 0h3m1 0h1m4 0h1m7 0h1m7 0h1m5 0h1m3 0h1m4 0h2m5 0h1m5 0h1m1 0h1m2 0h1m2 0h1m7 0h1m6 0h1m1 0h1m18 0h2m1 0h1m1 0h1m7 0h1m2 0h1m1 0h1m1 0h1m5 0h1m2 0h1m3 0h2m1 0h3m3 0h1m3 0h1m1 0h1m3 0h1m1 0h1m1 0h1m2 0h1m1 0h3m4 0h1m2 0h1m4 0h1m1 0h1m2 0h1m4 0h1m4 0h1m2 0h1m1 0h2m3 0h1m10 0h1m2 0h1m5 0h1m8 0h1m4 0h1m1 0h1m3 0h1m6 0h1m14 0h1m9 0h2m5 0h1m4 0h1m6 0h1m6 0h2m1 0h1m3 0h1m14 0h1m3 0h1m1 0h1m2 0h1m1 0h1m1 0h1m1 0h1m6 0h1m9 0h1m1 0h1m3 0h1m1 0h1m1 0h1m5 0h1m5 0h1m16 0h1m5 0h1m9 0h1m1 0h1m4 0h1m8 0h1m2 0h2m1 0h1m2 0h1m6 0h1m5 0h1m2 0h1m8 0h1m2 0h1m5 0h1m4 0h1m2 0h1m2 0h1m2 0h1m3 0h1m7 0h1m11 0h2m10 0h1m2 0h1m3 0h1m14 0h1m11 0h1m8 0h1m8 0h1m5 0h2m2 0h1m1 0h1m7 0h1m28 0h2m14 0h1m1 0h2m7 0h1m3 0h1m5 0h1m43 0h1m1 0h1m25 0h1m2 0h2m1 0h1m3 0h1m6 0h1m4 0h3m8 0h1m3 0h1m3 0h1m3 0h2m3 0h1m7 0h1m4 0h1m9 0h1m10 0h1m1 0h1m2 0h1m7 0h1m7 0h1m21 0h1m1 0h2m14 0h1m1 0h2m5 0h1m12 0h2m7 0h1m40 0h1m6 0h3m5 0h1m1 0h1m2 0h1m1 0h1m7 0h1m2 0h2m6 0h1m1 0h1m3 0h1m7 0h1m4 0h1m4 0h1m25 0h1m3 0h1m13 0h1m1 0h1m18 0h1m10 0h1m3 0h1m3 0h1m16 0h1m7 0h2m3 0h1m1 0h3m8 0h1m19 0h1m5 0h1m6 0h1m7 0h1m5 0h1m7 0h1m5 0h1m10 0h1m11 0h1m6 0h1m3 0h1m8 0h1m7 0h1m2 0h2m1 0h1m1 0h1m6 0h1m3 0h1m6 0h1m3 0h1m2 0h1m8 0h1m31 0h1m6 0h1M182 800.0h1m678 0h1m9 0h1m6 0h1m25 0h1m12 0h1m73 0h1m1 0h1m13 0h1m9 0h1m4 0h1m2 0h1m11 0h1m41 0h1m19 0h1m3 0h1m3 0h1m11 0h1m12 0h1m5 0h1m21 0h1m6 0h1m13 0h1m27 0h1m3 0h1m4 0h1m1 0h1m1 0h1m27 0h1m1 0h2m2 0h2m4 0h1m31 0h1m1 0h1m1 0h1m2 0h1m4 0h1m4 0h1m7 0h3m7 0h1m3 0h1m8 0h1m16 0h1m3 0h1m23 0h1m7 0h1m16 0h1m12 0h2m10 0h1m15 0h1m20 0h1m4 0h1m2 0h1m6 0h1m1 0h1m13 0h1m1 0h1m10 0h1m1 0h1m6 0h1m1 0h1m16 0h1m7 0h1m3 0h1m4 0h1m5 0h2m1 0h1m1 0h1m2 0h1m3 0h1m11 0h1m1 0h1m10 0h1m7 0h1m4 0h1m13 0h1m5 0h2m13 0h1m3 0h1m4 0h1m4 0h2m10 0h1m4 0h4m1 0h1m2 0h1m2 0h1m10 0h1m2 0h1m1 0h1m2 0h1m2 0h2m2 0h1m16 0h1m4 0h1m8 0h1m4 0h1m2 0h1m5 0h1m1 0h1m1 0h1m1 0h1m6 0h1m3 0h1m2 0h1m9 0h1m6 0h1m3 0h1m4 0h1m2 0h1m2 0h1m1 0h1m9 0h2m4 0h2m2 0h1m6 0h1m9 0h1m10 0h2m20 0h1m3 0h1m8 0h1m3 0h2m4 0h1m3 0h1m5 0h1m4 0h1m3 0h1m3 0h1m2 0h1m9 0h1m1 0h1m9 0h1m5 0h1m2 0h1m4 0h1m1 0h1m15 0h2m8 0h1m1 0h1m6 0h1m3 0h1m4 0h1m3 0h1m32 0h1m8 0h1m12 0h2m7 0h1m2 0h1m9 0h1m17 0h1m9 0h1m5 0h1m3 0h1m8 0h1m12 0h1m4 0h1m1 0h2m10 0h1m8 0h1m8 0h1m8 0h1m13 0h1m5 0h1m13 0h2m13 0h1m1 0h1m23 0h1m5 0h1m2 0h1m5 0h1m5 0h1m3 0h1m15 0h1m7 0h1m1 0h2m1 0h1m2 0h2m6 0h1m6 0h2m10 0h1m2 0h1m1 0h1m14 0h1m4 0h1m8 0h1m7 0h1m8 0h1m3 0h1m10 0h1m3 0h3m2 0h1m2 0h2m15 0h1m3 0h1m12 0h1m11 0h1m3 0h1m1 0h1m17 0h2m1 0h2m19 0h1m2 0h2m10 0h1m2 0h1m1 0h1m19 0h2m1 0h1m3 0h2m14 0h2m21 0h2m5 0h1m3 0h2m2 0h1m14 0h1m4 0h2m6 0h3m5 0h2m1 0h1m9 0h2m3 0h1m4 0h1m1 0h1m14 0h1m16 0h1m3 0h1m4 0h1m15 0h1m1 0h1m10 0h1m3 0h1m5 0h1m11 0h1m8 0h2m4 0h1m1 0h1m13 0h1m3 0h1m8 0h1m7 0h1m1 0h1m19 0h1M806 803.4h1m7 0h1m2 0h1m16 0h1m30 0h1m1 0h1m13 0h1m70 0h2m25 0h1m20 0h1m19 0h2m7 0h1m8 0h1m12 0h1m10 0h1m16 0h1m10 0h1m30 0h1m5 0h1m3 0h1m6 0h1m2 0h1m6 0h1m2 0h1m9 0h1m1 0h1m30 0h1m3 0h2m11 0h1m2 0h2m9 0h1m1 0h1m1 0h1m6 0h1m8 0h1m11 0h1m3 0h2m15 0h1m21 0h1m1 0h1m13 0h1m14 0h1m4 0h2m1 0h1m17 0h1m31 0h1m5 0h1m13 0h1m6 0h1m22 0h1m34 0h1m9 0h1m4 0h1m14 0h1m26 0h2m5 0h1m11 0h1m2 0h1m8 0h1m4 0h1m3 0h1m3 0h1m3 0h1m8 0h2m4 0h1m1 0h1m1 0h1m1 0h1m6 0h1m20 0h1m5 0h1m19 0h1m3 0h1m4 0h1m8 0h1m3 0h1m11 0h1m1 0h1m2 0h1m3 0h1m16 0h2m1 0h1m3 0h1m14 0h1m2 0h1m11 0h1m8 0h1m2 0h1m4 0h3m23 0h1m3 0h1m4 0h1m1 0h1m3 0h1m3 0h1m1 0h1m10 0h1m4 0h1m3 0h1m7 0h1m14 0h1m2 0h1m6 0h1m1 0h1m10 0h1m17 0h1m2 0h1m6 0h1m1 0h2m11 0h2m5 0h1m10 0h1m7 0h1m1 0h1m8 0h1m1 0h1m2 0h2m3 0h1m1 0h1m7 0h1m10 0h1m3 0h1m3 0h1m8 0h1m5 0h1m4 0h1m2 0h1m5 0h1m5 0h2m1 0h2m11 0h1m1 0h1m7 0h1m8 0h1m7 0h1m6 0h1m2 0h1m9 0h1m6 0h1m2 0h1m10 0h2m1 0h1m10 0h3m1 0h1m4 0h3m4 0h1m29 0h1m1 0h2m2 0h1m2 0h1m3 0h1m10 0h1m4 0h1m11 0h1m3 0h1m19 0h1m1 0h1m13 0h1m10 0h1m10 0h2m12 0h1m36 0h2m36 0h1m30 0h1m1 0h1m8 0h1m3 0h1m7 0h2m7 0h1m5 0h1m13 0h1m22 0h1m27 0h1m7 0h1m12 0h2m14 0h2m2 0h1m3 0h1m17 0h3m3 0h1m6 0h1m6 0h1m15 0h1m6 0h1m6 0h1m3 0h1m6 0h1m11 0h1m4 0h1m6 0h1m2 0h1m2 0h1m2 0h1m8 0h1m25 0h2m3 0h1m6 0h1m3 0h1m4 0h1m11 0h1m1 0h1m22 0h1m5 0h1m5 0h1m1 0h1m24 0h1m3 0h1m4 0h1m5 0h1m4 0h2m12 0h1m32 0h1m3 0h1m12 0h2M780 806.6h1m12 0h1m19 0h1m91 0h1m71 0h1m8 0h1m19 0h1m7 0h1m1 0h1m25 0h1m9 0h1m24 0h1m37 0h1m8 0h1m43 0h1m1 0h1m2 0h1m3 0h1m30 0h1m42 0h1m1 0h1m10 0h1m16 0h1m9 0h2m1 0h1m10 0h1m9 0h1m8 0h1m1 0h1m9 0h1m3 0h1m3 0h1m2 0h1m9 0h1m4 0h1m2 0h2m1 0h1m1 0h1m3 0h1m11 0h1m13 0h1m19 0h1m34 0h1m11 0h1m1 0h1m1 0h1m1 0h1m5 0h1m4 0h2m1 0h1m1 0h1m4 0h1m2 0h1m15 0h1m1 0h1m3 0h1m1 0h1m2 0h2m9 0h1m7 0h1m2 0h1m3 0h1m5 0h1m11 0h2m1 0h2m1 0h2m10 0h1m4 0h1m3 0h1m7 0h1m2 0h1m10 0h1m8 0h1m8 0h1m5 0h1m2 0h1m7 0h1m10 0h1m21 0h1m2 0h2m7 0h1m2 0h1m3 0h1m4 0h1m1 0h1m1 0h1m7 0h1m7 0h1m4 0h1m20 0h1m7 0h1m1 0h1m19 0h1m3 0h1m1 0h1m2 0h1m2 0h1m1 0h1m20 0h1m1 0h1m9 0h2m14 0h1m6 0h1m2 0h1m3 0h1m5 0h1m11 0h2m12 0h1m11 0h1m16 0h1m1 0h1m5 0h1m25 0h1m2 0h1m3 0h2m4 0h3m28 0h1m1 0h1m8 0h1m16 0h1m4 0h1m8 0h1m3 0h1m9 0h1m3 0h1m10 0h1m7 0h1m50 0h2m4 0h1m15 0h1m4 0h1m2 0h1m12 0h1m4 0h1m5 0h1m29 0h1m7 0h1m5 0h1m8 0h1m1 0h1m2 0h1m5 0h1m6 0h1m15 0h1m8 0h1m24 0h1m11 0h1m7 0h1m2 0h1m2 0h1m1 0h1m16 0h1m24 0h1m2 0h1m10 0h1m10 0h1m1 0h1m6 0h1m8 0h3m16 0h1m6 0h1m11 0h1m1 0h1m9 0h1m4 0h2m3 0h2m2 0h1m8 0h1m7 0h1m45 0h1m3 0h1m8 0h1m9 0h1m3 0h1m11 0h1m25 0h1m15 0h1m24 0h1m8 0h1m18 0h1m3 0h1m3 0h1m16 0h1m11 0h1m30 0h1m22 0h2m4 0h1m5 0h1m11 0h1m6 0h1m1 0h1m10 0h2m13 0h1m3 0h1m1 0h2m9 0h1m8 0h1m12 0h1M853 810.0h1m125 0h1m3 0h1m9 0h1m9 0h1m5 0h1m19 0h1m7 0h1m1 0h1m11 0h1m6 0h1m11 0h1m1 0h1m1 0h1m6 0h1m14 0h1m12 0h1m37 0h1m5 0h1m13 0h2m3 0h1m4 0h1m9 0h1m10 0h2m15 0h1m8 0h1m1 0h1m27 0h2m3 0h1m2 0h1m14 0h1m8 0h1m4 0h1m2 0h1m7 0h1m5 0h1m1 0h1m11 0h1m7 0h1m19 0h1m2 0h1m22 0h1m33 0h1m38 0h1m31 0h3m24 0h1m6 0h1m2 0h1m5 0h1m9 0h2m3 0h1m1 0h1m10 0h1m11 0h1m22 0h1m6 0h2m9 0h3m3 0h1m19 0h2m3 0h1m23 0h1m2 0h2m6 0h1m14 0h1m11 0h1m20 0h1m3 0h1m2 0h1m23 0h1m7 0h1m11 0h1m3 0h1m6 0h1m6 0h1m14 0h1m5 0h2m7 0h1m8 0h1m6 0h1m5 0h1m2 0h1m2 0h1m17 0h1m5 0h1m3 0h1m7 0h1m9 0h1m6 0h1m4 0h1m6 0h1m2 0h1m2 0h1m6 0h1m4 0h2m9 0h1m27 0h1m1 0h1m2 0h1m4 0h1m6 0h1m13 0h1m4 0h1m4 0h1m13 0h1m9 0h1m3 0h3m5 0h1m9 0h1m5 0h1m15 0h1m2 0h1m9 0h1m4 0h1m16 0h1m1 0h1m6 0h1m4 0h1m3 0h1m8 0h2m12 0h1m2 0h2m16 0h1m4 0h1m16 0h1m3 0h1m5 0h1m10 0h1m4 0h1m3 0h1m17 0h1m3 0h1m6 0h1m23 0h1m7 0h1m8 0h2m8 0h1m8 0h1m8 0h1m6 0h1m15 0h2m2 0h1m11 0h1m5 0h1m9 0h2m7 0h1m12 0h1m5 0h1m4 0h1m3 0h1m7 0h1m5 0h1m13 0h1m5 0h1m7 0h1m4 0h1m8 0h1m10 0h1m5 0h1m20 0h1m23 0h1m7 0h1m2 0h2m1 0h1m4 0h1m11 0h1m8 0h1m12 0h1m11 0h1m12 0h1m19 0h1m10 0h2m11 0h1m2 0h1m3 0h1m12 0h1m6 0h3m17 0h1m10 0h1m8 0h1m18 0h1m3 0h1m1 0h2m77 0h1m6 0h1m7 0h1m1 0h1m8 0h1m10 0h1m4 0h1M863 813.2h1m50 0h1m30 0h1m51 0h1m3 0h1m4 0h1m21 0h1m18 0h1m8 0h1m9 0h1m5 0h1m19 0h1m1 0h1m19 0h1m18 0h1m25 0h1m7 0h1m7 0h1m1 0h1m32 0h1m3 0h1m7 0h1m17 0h1m17 0h1m31 0h1m16 0h1m7 0h1m1 0h1m8 0h1m9 0h1m5 0h1m12 0h1m25 0h1m6 0h2m26 0h1m7 0h1m3 0h1m41 0h1m3 0h1m6 0h1m2 0h1m7 0h1m1 0h1m3 0h1m9 0h1m1 0h2m7 0h1m1 0h1m4 0h1m4 0h1m12 0h3m2 0h1m5 0h1m7 0h1m1 0h1m13 0h1m1 0h1m2 0h1m2 0h1m14 0h2m6 0h1m1 0h1m13 0h1m3 0h1m9 0h1m1 0h1m9 0h1m14 0h1m12 0h2m7 0h1m1 0h1m19 0h1m4 0h1m1 0h1m11 0h1m5 0h2m1 0h2m8 0h2m4 0h1m4 0h1m14 0h1m4 0h1m4 0h1m9 0h1m18 0h1m2 0h1m14 0h1m5 0h1m37 0h2m3 0h1m25 0h1m6 0h1m5 0h1m9 0h2m3 0h1m35 0h1m3 0h1m3 0h2m14 0h1m19 0h1m7 0h1m10 0h1m8 0h1m4 0h1m25 0h1m2 0h1m13 0h1m14 0h2m7 0h1m8 0h2m14 0h1m4 0h1m8 0h1m3 0h1m9 0h1m3 0h1m4 0h1m4 0h2m8 0h1m12 0h1m9 0h1m5 0h1m3 0h2m8 0h1m37 0h1m19 0h1m14 0h1m8 0h1m9 0h3m8 0h1m6 0h1m12 0h2m8 0h1m18 0h1m19 0h1m17 0h1m8 0h1m2 0h1m1 0h1m22 0h1m27 0h1m9 0h1m19 0h1m11 0h1m20 0h1m4 0h1m2 0h1m38 0h1m3 0h1m7 0h1m1 0h1m7 0h1m14 0h2m61 0h1m13 0h1m2 0h2m6 0h2m3 0h1m4 0h1m2 0h1m37 0h1m1 0h2m27 0h1m2 0h1m4 0h1m11 0h1m13 0h1m1 0h1m7 0h1m17 0h1m5 0h2M789 816.5h1m14 0h1m24 0h1m4 0h1m133 0h1m2 0h1m10 0h1m3 0h1m25 0h1m9 0h1m2 0h1m15 0h1m37 0h1m3 0h1m1 0h1m38 0h1m5 0h1m17 0h1m29 0h1m35 0h1m6 0h1m3 0h1m4 0h1m4 0h1m10 0h1m10 0h1m26 0h1m20 0h1m71 0h1m3 0h1m16 0h1m81 0h1m6 0h1m2 0h1m11 0h1m1 0h1m10 0h1m3 0h1m3 0h2m38 0h1m12 0h1m18 0h1m1 0h1m2 0h1m17 0h1m30 0h2m3 0h1m13 0h1m6 0h1m1 0h2m4 0h1m2 0h1m3 0h1m21 0h1m7 0h1m2 0h1m7 0h1m8 0h2m13 0h1m4 0h1m30 0h1m12 0h1m17 0h1m12 0h1m22 0h2m2 0h1m43 0h1m8 0h1m4 0h1m16 0h1m6 0h1m6 0h1m3 0h1m19 0h2m5 0h1m15 0h1m5 0h1m9 0h1m9 0h1m9 0h1m10 0h1m6 0h1m2 0h1m4 0h2m14 0h2m9 0h1m2 0h1m4 0h1m1 0h1m13 0h1m12 0h1m4 0h1m20 0h1m11 0h1m19 0h2m1 0h1m1 0h1m41 0h1m15 0h1m1 0h1m7 0h2m41 0h1m3 0h1m29 0h1m2 0h1m24 0h1m6 0h1m5 0h1m14 0h1m35 0h1m12 0h2m6 0h2m7 0h1m9 0h1m1 0h2m17 0h2m5 0h1m1 0h1m2 0h2m12 0h1m7 0h1m5 0h1m4 0h1m7 0h1m4 0h1m2 0h1m13 0h1m11 0h1m6 0h1m17 0h1m11 0h1m7 0h1m7 0h1m11 0h1m32 0h1m9 0h1m7 0h1m1 0h1m33 0h1m17 0h1m2 0h1m5 0h1m6 0h1m3 0h1m1 0h2m9 0h2m8 0h1m3 0h1m6 0h1m8 0h1m5 0h1m13 0h1m5 0h1m2 0h1m5 0h1m3 0h1m33 0h1M1022 819.9h1m19 0h1m2 0h1m15 0h1m2 0h1m3 0h1m34 0h1m3 0h1m10 0h1m60 0h1m17 0h1m4 0h1m17 0h1m3 0h1m18 0h1m12 0h1m25 0h1m9 0h1m2 0h1m27 0h2m13 0h2m33 0h1m18 0h1m13 0h1m8 0h1m32 0h1m18 0h1m16 0h1m8 0h1m3 0h1m31 0h2m1 0h1m5 0h1m29 0h1m7 0h1m8 0h1m5 0h1m1 0h1m11 0h1m13 0h1m13 0h1m8 0h1m16 0h1m6 0h1m9 0h1m1 0h1m2 0h1m6 0h1m8 0h1m4 0h1m3 0h1m6 0h1m33 0h1m4 0h1m15 0h1m7 0h1m13 0h1m6 0h1m1 0h1m3 0h1m39 0h2m3 0h1m6 0h1m1 0h1m1 0h1m4 0h1m10 0h1m2 0h1m12 0h1m7 0h1m10 0h1m2 0h1m11 0h1m3 0h1m10 0h1m1 0h1m4 0h1m5 0h1m2 0h1m31 0h1m24 0h1m1 0h1m1 0h1m5 0h1m47 0h1m6 0h1m31 0h1m2 0h1m5 0h1m6 0h1m11 0h1m7 0h1m8 0h1m8 0h1m2 0h1m7 0h2m8 0h1m4 0h1m17 0h1m1 0h1m6 0h1m24 0h1m44 0h1m13 0h1m6 0h1m26 0h1m9 0h1m84 0h1m13 0h2m33 0h1m8 0h1m15 0h1m3 0h2m3 0h1m17 0h1m4 0h1m9 0h1m1 0h1m12 0h1m6 0h1m25 0h1m2 0h1m1 0h1m21 0h1m3 0h1m18 0h1m11 0h1m23 0h1m37 0h1m7 0h1m40 0h1m2 0h1m8 0h1m4 0h1m14 0h2m27 0h1m12 0h1m11 0h2m4 0h1m12 0h1M897 823.1h1m69 0h1m20 0h1m7 0h1m11 0h1m6 0h1m9 0h1m15 0h1m44 0h1m8 0h1m6 0h1m29 0h1m32 0h2m14 0h2m18 0h1m11 0h1m98 0h1m11 0h1m16 0h1m27 0h1m96 0h1m15 0h1m4 0h1m2 0h1m4 0h2m1 0h1m1 0h1m2 0h2m4 0h1m2 0h1m10 0h1m10 0h1m11 0h1m3 0h1m8 0h1m5 0h1m1 0h1m1 0h1m7 0h1m4 0h1m5 0h1m4 0h1m18 0h1m2 0h2m2 0h1m12 0h1m2 0h1m16 0h1m17 0h1m23 0h1m5 0h1m1 0h1m4 0h1m1 0h2m13 0h1m8 0h1m21 0h1m8 0h1m11 0h1m6 0h1m14 0h2m15 0h1m2 0h1m10 0h1m9 0h1m2 0h1m33 0h1m18 0h1m3 0h1m5 0h1m8 0h2m1 0h1m38 0h1m20 0h1m33 0h3m23 0h1m22 0h1m7 0h1m9 0h1m2 0h1m16 0h1m10 0h1m5 0h1m6 0h1m7 0h2m11 0h1m2 0h1m3 0h1m1 0h1m10 0h1m9 0h1m63 0h1m1 0h1m10 0h1m2 0h1m4 0h1m29 0h1m16 0h1m12 0h1m7 0h1m15 0h1m7 0h1m10 0h1m20 0h1m14 0h2m28 0h2m2 0h1m5 0h1m1 0h1m5 0h1m17 0h1m13 0h1m17 0h1m15 0h1m8 0h1m11 0h1m1 0h1m29 0h1m8 0h1m36 0h1m23 0h1m8 0h1m47 0h1m3 0h1m25 0h1m42 0h2m1 0h1m7 0h1m1 0h1m2 0h1m18 0h1m1 0h1m2 0h1m2 0h1m5 0h1m14 0h1m7 0h1m19 0h1m7 0h1M795 826.5h1m115 0h1m54 0h1m9 0h1m41 0h1m1 0h1m1 0h1m19 0h1m2 0h1m8 0h1m27 0h1m6 0h1m10 0h1m3 0h1m24 0h1m6 0h1m64 0h2m5 0h1m7 0h1m10 0h1m50 0h1m7 0h1m9 0h1m5 0h1m9 0h1m2 0h1m20 0h1m17 0h1m3 0h1m40 0h1m38 0h1m29 0h1m12 0h1m45 0h1m5 0h1m2 0h1m22 0h1m12 0h1m2 0h1m9 0h1m24 0h1m1 0h1m4 0h1m21 0h2m16 0h1m33 0h1m4 0h1m6 0h1m5 0h1m25 0h1m1 0h1m5 0h1m10 0h1m2 0h1m1 0h1m2 0h1m8 0h1m1 0h1m6 0h1m8 0h1m11 0h1m13 0h1m8 0h1m6 0h1m10 0h1m61 0h1m36 0h1m1 0h1m15 0h2m3 0h1m18 0h1m3 0h1m8 0h1m14 0h1m8 0h1m19 0h1m3 0h1m4 0h1m13 0h1m13 0h1m10 0h1m19 0h1m5 0h1m11 0h1m17 0h1m1 0h1m2 0h1m10 0h2m16 0h1m35 0h1m22 0h1m40 0h1m9 0h1m11 0h1m85 0h1m5 0h1m6 0h1m5 0h1m12 0h1m18 0h1m3 0h1m7 0h1m1 0h1m16 0h1m34 0h1m69 0h1m2 0h1m1 0h1m4 0h2m18 0h1m9 0h1m3 0h1m44 0h1m30 0h1m4 0h1m2 0h1m1 0h1m18 0h1m25 0h1m4 0h1m15 0h3m2 0h1m15 0h1m7 0h1m6 0h1m7 0h2m4 0h1m15 0h1M780 829.8h1m103 0h1m26 0h1m21 0h1m10 0h1m46 0h1m19 0h2m6 0h1m2 0h1m11 0h1m12 0h1m60 0h1m46 0h1m26 0h1m20 0h1m20 0h1m36 0h1m24 0h1m36 0h1m51 0h1m37 0h2m39 0h1m21 0h2m15 0h1m39 0h1m25 0h1m11 0h1m9 0h1m1 0h1m17 0h1m5 0h1m44 0h1m7 0h1m23 0h1m28 0h1m38 0h1m4 0h1m14 0h1m1 0h1m17 0h1m5 0h1m3 0h1m20 0h1m45 0h2m17 0h1m13 0h1m11 0h1m1 0h1m20 0h2m16 0h1m1 0h1m1 0h1m5 0h1m14 0h1m22 0h1m47 0h1m3 0h1m25 0h1m13 0h1m1 0h1m48 0h1m15 0h1m8 0h1m16 0h1m4 0h1m23 0h1m2 0h1m26 0h1m29 0h1m7 0h1m18 0h1m10 0h1m31 0h1m2 0h1m8 0h1m1 0h2m43 0h1m2 0h1m10 0h1m17 0h1m2 0h1m21 0h1m20 0h1m19 0h1m22 0h1m13 0h1m10 0h1m18 0h1m40 0h1m4 0h1m9 0h1m58 0h1m3 0h1m23 0h1m2 0h1m28 0h1m38 0h1m41 0h1M881 833.0h1m72 0h1m19 0h3m7 0h1m7 0h1m4 0h1m12 0h1m11 0h1m11 0h1m31 0h1m42 0h2m31 0h1m5 0h1m31 0h1m13 0h1m29 0h1m14 0h1m25 0h1m21 0h1m9 0h1m2 0h1m10 0h1m15 0h1m61 0h1m44 0h1m4 0h1m20 0h1m19 0h1m2 0h1m4 0h1m13 0h1m27 0h1m32 0h1m18 0h1m10 0h1m17 0h1m22 0h1m5 0h1m9 0h1m23 0h1m9 0h1m2 0h1m41 0h1m35 0h1m4 0h1m4 0h1m1 0h1m30 0h1m86 0h1m1 0h1m33 0h1m17 0h1m2 0h1m22 0h1m35 0h1m15 0h1m11 0h1m12 0h1m14 0h1m25 0h1m23 0h1m5 0h1m10 0h1m10 0h1m32 0h1m88 0h1m14 0h1m12 0h1m8 0h1m20 0h2m2 0h1m26 0h1m23 0h1m16 0h1m29 0h1m10 0h1m14 0h1m27 0h1m30 0h1m103 0h1m32 0h1m43 0h1m8 0h1m17 0h1m4 0h1m30 0h1m13 0h1m11 0h1m4 0h1m76 0h1m6 0h1m1 0h1M799 836.4h1m35 0h1m16 0h1m132 0h1m6 0h1m13 0h1m5 0h1m12 0h1m40 0h1m54 0h1m47 0h1m22 0h1m56 0h1m39 0h1m12 0h1m9 0h1m26 0h1m12 0h1m33 0h1m6 0h1m95 0h1m32 0h1m6 0h1m43 0h1m18 0h1m4 0h1m22 0h1m7 0h1m37 0h1m9 0h1m2 0h1m6 0h1m4 0h1m6 0h1m36 0h2m37 0h1m42 0h1m1 0h1m32 0h1m46 0h1m33 0h1m40 0h1m2 0h1m7 0h1m4 0h1m12 0h1m2 0h1m38 0h1m11 0h1m6 0h1m4 0h1m6 0h1m10 0h1m20 0h1m12 0h1m2 0h1m7 0h1m9 0h1m3 0h1m34 0h1m20 0h1m6 0h1m25 0h1m2 0h1m25 0h1m6 0h1m60 0h1m79 0h1m4 0h1m29 0h1m3 0h1m28 0h1m8 0h1m53 0h1m1 0h1m77 0h1m3 0h1m4 0h1m27 0h1m58 0h1m4 0h1m26 0h1m58 0h1m1 0h1m36 0h1m7 0h1m21 0h1M840 839.6h1m73 0h1m80 0h1m23 0h1m8 0h1m14 0h1m3 0h1m23 0h1m56 0h2m9 0h2m3 0h1m18 0h1m59 0h1m8 0h1m20 0h1m237 0h1m10 0h1m17 0h1m4 0h1m43 0h1m17 0h1m11 0h1m5 0h1m5 0h1m28 0h1m27 0h1m7 0h1m10 0h1m3 0h1m7 0h1m13 0h1m21 0h1m1 0h1m11 0h1m72 0h1m5 0h1m117 0h1m45 0h1m15 0h1m13 0h1m69 0h1m21 0h1m4 0h1m69 0h1m25 0h1m30 0h2m47 0h1m6 0h1m5 0h1m27 0h1m55 0h1m8 0h1m15 0h1m59 0h1m74 0h1m17 0h1m55 0h1m11 0h1m32 0h1m15 0h1m3 0h1m40 0h1m19 0h1m13 0h1m1 0h1m2 0h1M987 843.0h1m64 0h1m86 0h1m37 0h1m99 0h1m32 0h1m24 0h1m2 0h1m24 0h1m230 0h1m19 0h1m13 0h1m9 0h1m19 0h1m77 0h1m31 0h1m94 0h1m1 0h1m21 0h1m22 0h1m44 0h1m26 0h1m54 0h1m2 0h2m7 0h1m40 0h1m16 0h1m4 0h1m107 0h1m27 0h1m50 0h1m43 0h1m92 0h1m21 0h1m26 0h1m5 0h1m68 0h1m4 0h1m21 0h1m9 0h1m82 0h2m123 0h1m5 0h1M996 846.2h1m8 0h1m24 0h1m7 0h1m38 0h1m193 0h1m6 0h1m27 0h1m10 0h1m15 0h1m25 0h1m121 0h1m19 0h1m93 0h1m15 0h1m23 0h1m40 0h1m42 0h1m35 0h1m4 0h1m8 0h1m72 0h1m7 0h2m7 0h1m29 0h1m32 0h1m6 0h1m19 0h1m149 0h1m7 0h1m30 0h1m112 0h1m89 0h1m95 0h1m48 0h1m8 0h1m57 0h1m20 0h1m39 0h1m26 0h1m31 0h1m103 0h1M973 849.5h1m4 0h2m7 0h1m37 0h1m121 0h1m227 0h1m16 0h1m114 0h1m50 0h1m56 0h1m32 0h1m16 0h1m68 0h1m26 0h1m82 0h1m113 0h1m19 0h1m76 0h1m15 0h1m69 0h1m40 0h2m12 0h1m16 0h1m35 0h1m23 0h1m68 0h1m3 0h1m245 0h1m5 0h1M989 852.9h1m42 0h1m114 0h1m153 0h1m163 0h1m56 0h1m28 0h1m7 0h2m70 0h1m3 0h1m3 0h1m69 0h1m6 0h1m58 0h1m84 0h1m10 0h1m78 0h1m44 0h1m3 0h1m69 0h1m33 0h1m40 0h1m5 0h1m205 0h1m127 0h1m102 0h1m121 0h1m33 0h1m74 0h1M973 856.1h1m49 0h1m21 0h1m79 0h1m359 0h1m7 0h1m50 0h1m286 0h1m39 0h1m8 0h1m106 0h1m304 0h1m304 0h1m62 0h1M997 859.5h1m34 0h1m7 0h1m10 0h1m458 0h1m364 0h1m105 0h1m131 0h1M987 862.8h1m31 0h1m2 0h1m25 0h1M999 866.0h1m12 0h1m12 0h1M979 869.4h1m38 0h2M1009 872.6h1M964 876.0h1m36 0h1m3 0h1m20 0h1m19 0h1M989 882.5h1m20 0h1" stroke="#fff" stroke-width="3.3" fill="none"/>
</g>
<path d="M829.0 793.3H831.1V929.6H829.0ZM839.6 793.3H841.8V929.6H839.6ZM846.5 793.3H847.8V929.6H846.5ZM848.8 793.3H850.9V929.6H848.8ZM867.0 793.3H871.7V929.6H867.0ZM873.1 793.3H874.1V929.6H873.1ZM881.1 793.3H882.3V929.6H881.1ZM888.8 793.3H893.1V929.6H888.8ZM894.3 793.3H896.5V929.6H894.3ZM897.4 779.6H911.0V929.6H897.4ZM839.6 939.8H841.8V942.6H839.6ZM846.5 939.8H850.9V942.6H846.5ZM867.0 939.8H874.1V942.6H867.0ZM881.1 939.8H882.3V942.6H881.1ZM888.8 939.8H893.1V942.6H888.8ZM897.4 939.8H910.2V942.6H897.4ZM1053.8 776.9H1059.3V931.3H1053.8ZM1059.9 776.9H1073.3V931.3H1059.9ZM1077.0 776.9H1078.7V930.4H1077.0ZM1080.1 776.9H1081.5V930.4H1080.1ZM1082.2 776.9H1086.9V930.4H1082.2ZM1088.0 776.9H1105.7V930.9H1088.0ZM1105.7 776.9H1112.6V936.4H1105.7ZM1112.6 776.9H1135.6V936.1H1112.6ZM1137.3 776.9H1139.0V939.8H1137.3ZM1139.9 776.9H1141.2V939.8H1139.9ZM1142.1 776.9H1144.2V939.8H1142.1ZM1159.5 776.9H1160.7V936.4H1159.5ZM1162.1 776.9H1162.9V936.4H1162.1ZM1081.8 936.9H1092.1V939.8H1081.8ZM1093.8 936.9H1105.7V939.8H1093.8Z" fill="#fff" shape-rendering="crispEdges"/>
<path d="M1114.3 927.9H1119.4V929.9H1114.3ZM1124.5 926.5H1135.6V928.7H1124.5ZM1125.4 930.9H1134.8V932.7H1125.4ZM1119.4 933.3H1122.8V935.0H1119.4Z" fill="#d3d3d3" shape-rendering="crispEdges"/>
<path d="M3340.0 172.3L3347.8 167.5L3357.5 163.6L3381.7 163.6L3382.7 167.5L3404.0 166.5L3420.5 167.5L3423.4 175.2L3421.5 181.0L3415.7 181.0L3413.7 177.2L3404.0 179.1L3381.7 179.1L3378.8 186.9L3371.0 191.7L3359.4 186.9L3351.6 183.0L3340.0 183.0ZM3389.5 161.6L3402.1 157.4L3408.9 157.8L3408.9 161.3L3398.2 163.6L3389.5 164.0ZM3431.2 172.3L3438.0 172.3L3438.0 179.1L3431.2 179.1ZM3447.7 173.3L3458.4 173.3L3458.4 177.2L3447.7 177.2ZM3449.6 177.2L3453.5 177.2L3453.5 182.0L3449.6 182.0ZM3403.1 208.2L3404.0 188.8L3425.4 187.8L3427.3 191.7L3440.9 189.8L3461.3 189.8L3465.2 202.4L3474.9 208.2L3473.9 216.0L3464.2 213.1L3440.9 213.1L3440.9 235.4L3456.4 239.3L3464.2 239.3L3466.1 254.8L3479.7 254.8L3480.7 259.6L3499.1 260.6L3501.1 270.3L3505.0 270.3L3508.8 285.8L3534.1 297.5L3536.0 336.3L3501.1 325.6L3499.1 318.8L3464.2 318.8L3460.3 285.8L3431.2 274.2L3414.7 256.7L3415.7 241.2L3405.0 237.3L3402.1 227.6ZM3478.8 205.3L3493.3 191.7L3500.1 192.7L3534.1 194.6L3534.1 223.7L3537.9 233.4L3534.1 243.1L3530.2 250.9L3534.1 285.8L3541.8 305.2L3536.0 336.3L3508.8 285.8L3505.0 270.3L3503.0 231.5L3499.1 208.2L3491.4 198.5L3479.7 208.2ZM3536.0 204.3L3603.9 204.3L3636.9 204.3L3636.9 369.3L3607.8 363.5L3605.9 344.1L3598.1 349.9L3592.3 328.5L3580.6 344.1L3580.6 361.5L3569.0 359.6L3563.2 344.1L3536.0 336.3L3541.8 305.2L3548.6 299.4L3553.5 285.8L3559.3 283.9L3557.3 266.4L3545.7 254.8L3541.8 233.4L3537.9 214.0ZM3602.0 172.3L3636.9 172.3L3636.9 198.5L3625.3 198.5L3621.4 188.8L3601.0 186.9ZM3389.5 211.7L3396.3 211.7L3396.3 217.9L3389.5 217.9ZM3400.2 219.9L3407.0 219.9L3407.0 231.5L3400.2 231.5ZM3423.4 340.2L3429.3 340.2L3429.3 351.8L3423.4 351.8ZM3443.8 349.9L3451.6 342.1L3455.5 346.0L3445.8 354.7ZM3413.7 250.9L3421.5 250.9L3421.5 258.7L3413.7 258.7ZM3052.9 159.0L3058.8 159.0L3058.8 168.0L3052.9 168.0ZM3034.0 174.3L3040.2 171.9L3051.8 178.9L3051.8 181.6L3046.4 181.6L3034.0 176.6ZM3060.1 175.0L3061.6 171.9L3066.6 176.6L3066.6 183.6L3060.7 182.0ZM3068.1 187.5L3071.2 174.3L3079.0 174.3L3082.1 177.4L3093.0 176.6L3096.1 161.8L3100.7 161.8L3110.8 154.1L3117.8 154.1L3119.4 168.8L3122.5 157.2L3127.1 157.2L3128.7 163.4L3125.6 174.3L3147.6 174.3L3155.1 167.3L3156.6 159.5L3164.4 154.1L3170.9 154.1L3170.9 170.4L3169.1 192.1L3164.4 198.3L3167.5 208.4L3148.9 206.1L3147.6 203.0L3113.2 203.0L3088.3 203.8L3080.6 198.3L3079.0 192.9L3068.1 192.9ZM3138.8 154.1L3140.3 154.1L3141.1 158.7L3148.9 159.5L3148.9 165.7L3142.7 163.4L3138.8 160.3ZM3174.5 198.3L3176.1 178.1L3187.7 173.5L3188.5 164.2L3200.1 157.2L3217.2 156.4L3263.8 159.5L3263.8 162.6L3237.4 163.4L3218.8 168.8L3252.9 168.8L3248.3 178.1L3268.4 168.8L3284.0 164.2L3288.6 164.2L3290.2 181.2L3293.3 181.2L3291.7 192.1L3262.2 201.4L3252.9 195.2L3243.6 196.8L3234.3 192.1L3218.8 192.1L3209.4 201.4L3206.3 212.3L3200.1 213.9L3192.4 203.0L3187.7 198.3ZM3310.4 165.7L3333.7 164.2L3333.7 170.4L3346.1 171.1L3358.5 164.9L3381.8 162.6L3383.4 168.0L3420.0 167.3L3420.0 196.8L3403.5 196.8L3403.5 181.2L3381.8 178.1L3378.7 187.5L3370.9 191.3L3358.5 184.3L3344.5 182.8L3329.0 184.3L3327.5 207.6L3319.7 208.4L3315.0 181.2ZM3389.6 161.8L3395.8 158.7L3408.2 157.2L3408.2 161.1L3389.6 163.9ZM3403.5 206.9L3420.0 206.9L3420.0 258.9L3414.4 258.9L3415.2 248.0L3403.5 238.7L3411.3 229.4L3402.0 223.2L3403.5 217.0L3389.6 212.3L3392.7 211.5L3405.1 214.6ZM3101.5 258.9L3105.4 256.6L3107.0 254.2L3107.7 266.6L3104.6 266.6L3100.7 264.3ZM3197.0 251.9L3204.0 251.9L3204.0 256.6L3197.0 256.6ZM2882.9 219.1L2903.0 219.1L2903.0 222.1L2920.2 251.0L2930.4 234.3L2932.8 234.3L2937.0 244.0L2937.0 246.8L2942.1 247.3L2942.1 249.2L2944.4 249.6L2944.4 252.0L2947.0 252.4L2947.2 261.7L2949.1 262.2L2951.4 270.1L2954.7 272.0L2963.0 272.0L2963.0 275.2L2965.8 275.2L2965.4 279.9L2962.1 279.9L2961.2 284.8L2957.5 284.8L2951.9 286.9L2944.9 286.9L2944.9 289.9L2934.2 289.9L2920.2 265.5L2909.9 282.2L2909.9 274.8L2902.0 274.8L2902.0 272.0L2895.0 272.0L2893.6 267.3L2889.9 266.9L2888.0 264.5L2888.0 262.2L2889.0 261.7L2889.0 247.3L2888.0 246.8L2885.7 241.2L2885.7 222.1L2882.9 221.7ZM2882.9 224.0L2885.0 224.0L2885.0 237.0L2882.9 237.0ZM2868.0 232.1L2868.9 232.1L2868.9 238.9L2868.0 238.9ZM2816.8 219.1L2818.2 217.0L2820.0 217.0L2821.9 219.3L2821.9 222.1L2828.9 222.1L2828.9 231.5L2826.1 231.9L2825.6 228.9L2822.1 228.9L2822.1 224.5L2820.5 222.1L2817.0 221.7ZM2828.0 237.0L2829.3 234.3L2834.0 233.8L2834.5 232.1L2837.0 231.7L2837.3 229.1L2838.9 229.1L2838.9 236.6L2837.3 237.0L2837.3 238.9L2838.9 239.4L2840.1 242.2L2840.1 247.0L2841.9 247.3L2841.9 248.9L2841.0 249.2L2841.0 256.9L2838.9 256.9L2836.8 251.5L2836.8 247.0L2834.0 246.8L2832.1 241.7L2831.7 238.9L2828.0 238.9ZM2814.0 244.0L2818.0 243.9L2818.0 239.1L2823.9 239.1L2824.2 241.9L2826.1 242.2L2828.0 244.0L2828.0 248.9L2830.9 249.2L2830.9 257.1L2832.0 257.5L2832.0 259.9L2830.7 261.9L2829.1 262.2L2829.1 265.0L2828.0 265.3L2827.0 269.9L2821.0 269.9L2820.0 266.9L2820.0 259.9L2821.2 259.4L2821.2 257.1L2819.1 256.6L2819.1 252.0L2817.0 251.5L2816.8 248.9L2814.9 248.7L2814.0 246.8ZM2847.0 248.9L2851.0 248.9L2851.0 256.9L2852.0 257.1L2852.0 259.9L2849.2 259.9L2849.0 256.9L2847.0 256.6ZM2970.0 244.0L2971.0 244.0L2971.0 259.9L2970.0 259.9ZM2978.0 237.0L2982.1 237.0L2982.1 239.1L2984.0 239.4L2984.0 241.7L2982.1 242.2L2982.1 247.0L2983.1 247.3L2983.1 248.9L2982.1 249.2L2982.1 266.9L2978.1 266.9L2978.0 265.0L2977.0 264.5L2977.0 262.2L2975.9 261.7L2975.9 254.3L2977.0 253.8L2977.0 252.0L2978.9 251.5L2978.9 249.2L2977.0 248.9L2977.0 239.4ZM2640.1 246.8L2647.1 246.8L2647.1 250.9L2640.1 250.9ZM2640.1 250.9L2643.6 250.9L2643.6 253.7L2640.1 253.7ZM2704.7 226.8L2711.0 226.8L2710.3 232.8L2708.9 236.3L2706.8 236.3L2705.4 232.1ZM2817.6 218.1L2820.0 217.1L2823.5 220.5L2828.8 221.6L2828.8 231.0L2825.3 231.0L2821.8 225.8L2817.6 222.3ZM2814.8 245.0L2818.3 239.8L2823.5 239.1L2827.7 243.3L2832.3 257.2L2829.8 264.2L2827.0 270.2L2820.7 270.2L2819.3 257.2L2815.8 250.2ZM2828.8 234.5L2835.7 232.1L2839.2 229.3L2839.2 239.8L2841.7 255.5L2837.5 250.2L2833.3 241.5ZM2846.2 248.5L2850.1 248.5L2850.1 257.2L2846.2 257.2ZM1545.8 164.3L1570.1 164.3L1570.1 166.6L1563.5 167.5L1563.9 178.7L1558.9 178.7L1558.9 173.1L1552.4 172.2L1545.8 168.1ZM1584.0 167.5L1589.6 162.5L1594.3 162.5L1595.2 164.7L1610.1 164.3L1612.0 168.4L1611.1 178.7L1603.6 178.7L1601.7 181.5L1595.2 181.5L1591.5 175.9L1585.9 171.2ZM1626.0 162.5L1626.9 164.3L1636.8 164.3L1636.8 174.0L1634.3 176.5L1626.9 176.5L1626.0 172.2ZM1559.4 207.6L1567.3 207.6L1567.3 212.2L1559.4 212.2ZM1567.8 204.2L1569.7 204.2L1569.7 213.5L1567.8 213.5ZM1762.9 174.4L1764.0 177.4L1776.9 177.4L1775.9 181.5L1769.4 182.4L1769.1 186.5L1766.3 186.5L1765.7 182.4L1763.3 181.5ZM1779.3 187.4L1787.1 187.4L1789.9 184.3L1798.3 182.4L1803.0 185.2L1807.6 185.2L1810.4 182.4L1815.1 182.4L1820.7 184.8L1827.7 184.8L1827.7 188.9L1825.3 191.7L1816.9 192.3L1815.1 193.6L1809.5 194.2L1809.5 196.4L1804.8 197.3L1803.9 202.0L1792.7 202.9L1791.4 206.6L1790.5 202.0L1790.5 194.5L1792.7 191.7L1786.2 190.8L1780.6 191.7L1779.7 189.9ZM1902.1 163.2L1904.5 155.4L1908.2 152.6L1912.0 155.0L1914.2 160.1L1915.7 163.2ZM1918.1 149.4L1923.1 149.4L1925.0 147.4L1934.3 147.0L1937.1 149.4L1943.6 147.6L1944.6 158.2L1939.0 160.1L1937.1 166.6L1933.4 166.6L1932.5 163.8L1927.8 162.9L1923.1 161.0L1922.2 157.3L1918.1 156.3ZM1947.0 144.2L1951.5 144.2L1952.0 147.6L1955.7 147.9L1955.7 153.5L1950.2 153.9L1948.3 158.8L1947.0 158.2ZM1969.4 142.4L1977.7 142.4L1977.7 149.8L1976.2 150.7L1977.7 154.5L1977.7 158.6L1972.5 158.6L1972.0 151.7L1969.4 150.7ZM1349.2 213.6L1351.4 209.2L1353.6 209.2L1353.6 219.5L1359.5 219.5L1363.2 207.7L1367.6 207.4L1365.4 219.5L1363.2 225.4L1359.5 228.7L1349.2 228.7L1348.4 221.7L1349.9 218.0ZM1374.3 209.2L1376.5 207.4L1386.8 207.4L1386.8 208.9L1382.4 209.2L1381.6 218.8L1375.7 218.8L1375.7 213.6L1374.3 212.9ZM1396.0 270.4L1400.8 269.7L1404.5 265.5L1415.6 267.5L1418.5 270.4L1424.4 275.6L1430.3 277.0L1430.3 282.2L1427.4 282.2L1436.2 297.7L1443.6 308.0L1452.5 293.3L1461.0 282.2L1464.3 280.0L1468.0 280.3L1468.0 282.2L1465.0 284.4L1463.5 296.2L1462.0 305.1L1462.0 315.4L1459.8 319.8L1458.4 334.6L1455.4 335.3L1443.6 315.4L1433.3 332.4L1431.1 326.5L1428.9 319.8L1425.9 311.0L1426.6 305.1L1423.0 299.9L1420.0 299.2L1419.7 293.3L1416.3 288.9L1416.3 284.4L1412.6 280.0L1400.8 275.6L1399.3 277.0L1396.0 277.0ZM1459.1 270.4L1471.9 270.4L1471.9 271.9L1459.1 271.9ZM1461.3 271.9L1462.3 271.9L1462.3 274.8L1461.3 274.8ZM1468.0 266.7L1469.4 266.7L1469.4 270.4L1468.0 270.4ZM1496.7 280.3L1500.4 280.0L1501.9 283.0L1501.9 312.5L1498.2 315.4L1496.7 325.7L1488.6 326.5L1487.9 331.6L1484.2 331.6L1483.4 326.5L1477.5 325.7L1478.3 319.8L1492.3 315.4L1496.7 305.1ZM1461.3 322.8L1463.5 322.0L1468.0 328.0L1468.0 331.6L1462.0 331.6L1459.8 334.6ZM1482.7 335.3L1486.4 336.1L1488.2 343.4L1487.9 350.1L1484.2 349.3L1483.1 343.4ZM1523.3 305.1L1529.2 305.1L1529.2 308.0L1523.3 308.0ZM1523.3 308.0L1526.2 308.0L1526.2 319.8L1523.3 319.8ZM1377.2 322.8L1379.9 322.0L1379.9 335.3L1381.6 336.1L1381.6 356.7L1380.9 364.1L1381.9 365.6L1381.6 371.8L1380.2 371.8L1377.2 365.6L1375.0 364.1L1375.7 352.3L1374.3 339.0L1376.9 335.3ZM1417.0 346.4L1420.0 342.0L1420.0 337.5L1423.0 337.2L1423.0 346.4L1424.1 352.3L1424.4 366.8L1421.5 366.8L1420.7 358.2L1418.2 356.0L1418.5 350.8ZM1498.2 217.3L1504.1 217.0L1506.3 221.7L1508.5 218.8L1511.8 219.5L1510.7 231.3L1504.1 231.3L1502.6 233.8L1501.9 228.7L1498.2 228.1ZM1525.9 207.4L1527.0 207.4L1527.0 216.9L1525.9 216.9ZM1529.9 202.5L1530.8 202.5L1530.8 212.1L1529.9 212.1ZM1566.1 272.6L1569.8 263.0L1579.3 259.3L1580.8 257.1L1583.8 259.3L1584.5 272.6L1586.7 284.4L1590.4 285.2L1590.4 293.3L1586.7 293.3L1586.7 308.0L1580.8 312.5L1572.0 315.4L1569.8 319.8L1566.8 319.8L1566.1 308.0L1564.6 302.1L1564.6 293.3L1566.1 290.3ZM1603.0 265.2L1606.6 265.2L1606.6 279.7L1603.0 279.7ZM1612.1 275.6L1618.4 274.8L1620.7 277.8L1622.9 283.0L1622.9 293.3L1625.1 306.6L1625.1 312.5L1619.2 308.0L1615.5 296.2L1612.1 285.9ZM805.6 292.0L811.3 292.0L811.3 311.3L809.5 324.1L807.7 324.1L806.7 311.3ZM886.1 286.9L888.1 286.9L888.1 299.7L886.1 299.7ZM892.8 286.9L893.8 286.9L893.8 294.6L892.8 294.6ZM896.1 290.2L897.1 290.2L897.1 296.4L896.1 296.4ZM1072.9 266.9L1073.9 266.9L1073.9 274.9L1072.9 274.9ZM1202.3 305.6L1210.5 305.6L1210.5 311.3L1217.7 311.3L1217.7 324.1L1213.1 325.3L1210.5 321.5L1206.7 326.1L1202.3 326.6ZM913.8 541.4L921.0 541.4L921.5 538.6L940.2 538.1L944.0 531.1L954.3 531.1L955.5 538.1L963.2 541.9L969.6 546.5L970.9 543.2L974.8 543.2L978.6 550.9L983.0 551.4L983.0 560.4L972.2 560.4L968.4 558.6L968.4 567.0L964.5 567.5L949.1 566.2L947.9 561.9L940.2 561.9L938.9 557.3L931.2 557.3L929.9 554.2L923.5 551.4L917.1 550.9L913.8 547.0ZM1293.9 302.7L1295.3 302.7L1295.3 306.1L1293.9 306.1ZM3423.7 340.4L3427.2 341.1L3428.9 351.6L3424.4 351.6ZM3444.0 349.8L3451.6 342.8L3455.1 346.3L3446.4 354.4Z" fill="#00ffff" shape-rendering="crispEdges"/>
<path d="M3563.2 216.0L3569.0 206.3L3580.6 227.6L3578.7 229.6L3567.1 227.6ZM3619.4 225.7L3621.8 224.7L3625.3 241.2L3623.7 243.1ZM3603.1 263.5L3604.7 263.5L3604.7 266.4L3603.1 266.4ZM3606.3 278.1L3607.8 278.1L3607.8 282.0L3606.3 282.0ZM3625.3 283.9L3626.8 283.9L3626.8 285.8L3625.3 285.8ZM3563.2 247.0L3564.3 247.0L3564.3 250.9L3563.2 250.9ZM3553.5 241.2L3554.6 241.2L3554.6 245.1L3553.5 245.1ZM3095.3 185.9L3100.7 168.8L3104.6 175.0L3107.0 183.6L3113.2 183.6L3103.9 186.7ZM3103.9 163.4L3111.6 159.5L3113.2 175.0L3108.5 181.2L3104.6 171.9ZM3192.4 185.9L3207.9 167.3L3211.0 176.6L3226.5 184.3L3226.5 187.5L3211.0 189.0L3203.2 187.5ZM2952.3 274.8L2956.1 274.8L2956.1 279.9L2952.3 279.9ZM2930.9 277.1L2933.0 277.1L2933.0 279.9L2930.9 279.9ZM2930.9 253.8L2933.0 253.8L2933.0 256.6L2930.9 256.6ZM2918.1 257.1L2920.0 257.1L2920.0 261.7L2918.1 261.7ZM1572.0 278.5L1575.7 272.6L1576.1 293.3L1572.7 293.3Z" fill="#fff" shape-rendering="crispEdges"/>
<path d="M928.6 541.4L929.9 541.4L929.9 550.9L928.6 550.9ZM936.8 539.3L938.1 539.3L938.1 552.2L936.8 552.2ZM940.2 538.1L941.5 538.1L941.5 552.2L940.2 552.2ZM951.7 567.5L964.5 567.5L964.5 570.1L951.7 570.1Z" fill="#d3d3d3" shape-rendering="crispEdges"/>
<rect x="1424.4" y="352.3" width="1.5" height="14.4" fill="#ffb6c1"/>
<circle cx="2919.8" cy="685.1" r="17.1" fill="#32cd32"/>
<circle cx="2955.1" cy="724.2" r="17.1" fill="#32cd32"/>
<circle cx="3130.5" cy="743.4" r="17.1" fill="#32cd32"/>
<circle cx="3165.5" cy="767.9" r="17.1" fill="#32cd32"/>
<circle cx="3200.8" cy="764.8" r="17.1" fill="#32cd32"/>
<circle cx="3236.1" cy="755.0" r="17.1" fill="#32cd32"/>
<circle cx="3306.0" cy="761.3" r="17.1" fill="#32cd32"/>
<circle cx="3340.9" cy="760.9" r="17.1" fill="#32cd32"/>
<circle cx="3446.8" cy="738.2" r="17.1" fill="#32cd32"/>
<circle cx="3482.0" cy="687.9" r="17.1" fill="#32cd32"/>
<circle cx="3517.0" cy="690.7" r="17.1" fill="#32cd32"/>
<circle cx="3552.3" cy="632.3" r="17.1" fill="#32cd32"/>
<circle cx="3622.5" cy="598.4" r="17.1" fill="#32cd32"/>
<circle cx="1444.1" cy="244.2" r="17.1" fill="#0000ff"/>
<circle cx="1479.5" cy="302.8" r="17.1" fill="#0000ff"/>
<circle cx="3587.3" cy="256.2" r="17.1" fill="#0000ff"/>
<path d="M1444.2 314.6L1426.9 344.6L1461.5 344.6ZM2920.0 265.0L2902.7 295.0L2937.3 295.0ZM3130.4 183.9L3113.1 213.9L3147.7 213.9ZM3236.1 181.7L3218.8 211.7L3253.4 211.7ZM3306.1 173.8L3288.8 203.8L3323.4 203.8ZM3446.8 256.6L3429.5 286.6L3464.1 286.6ZM3481.9 289.4L3464.6 319.4L3499.2 319.4ZM3517.0 296.4L3499.7 326.4L3534.3 326.4ZM3552.2 314.6L3534.9 344.6L3569.5 344.6ZM3587.3 296.4L3570.0 326.4L3604.6 326.4ZM3622.5 339.7L3605.2 369.7L3639.8 369.7Z" fill="#ff0000"/>
<path d="M1444.2 312.3L1426.9 282.3L1461.5 282.3ZM2920.0 252.1L2902.7 222.1L2937.3 222.1ZM3130.4 204.3L3113.1 174.3L3147.7 174.3ZM3236.1 199.1L3218.8 169.1L3253.4 169.1ZM3306.1 184.1L3288.8 154.1L3323.4 154.1ZM3446.8 269.1L3429.5 239.1L3464.1 239.1ZM3481.9 290.0L3464.6 260.0L3499.2 260.0ZM3517.0 224.3L3499.7 194.3L3534.3 194.3ZM3552.2 234.1L3534.9 204.1L3569.5 204.1ZM3587.3 234.1L3570.0 204.1L3604.6 204.1ZM3622.5 229.2L3605.2 199.2L3639.8 199.2Z" fill="#ff0000"/>
<path d="M266.0 282.4C277.8 282.4 313.0 282.3 337.0 282.7C361.0 283.1 390.2 284.0 410.0 284.5C429.8 285.0 434.3 285.3 456.0 285.9C477.7 286.5 514.5 287.2 540.0 288.0C565.5 288.8 585.8 289.8 609.0 290.8C632.2 291.8 655.7 292.7 679.0 293.9C702.3 295.1 727.3 296.5 749.0 297.8C770.7 299.1 789.7 300.6 809.0 301.6C828.3 302.6 843.0 303.2 865.0 304.0C887.0 304.8 917.2 305.5 941.0 306.1C964.8 306.7 983.5 307.1 1008.0 307.5C1032.5 307.9 1062.7 308.4 1088.0 308.6C1113.3 308.8 1124.7 308.8 1160.0 308.9C1195.3 309.0 1251.7 309.1 1300.0 309.0C1348.3 308.9 1406.2 308.7 1450.0 308.6C1493.8 308.5 1544.2 308.3 1563.0 308.2M1666.0 307.5C1688.3 307.7 1752.7 308.1 1800.0 308.5C1847.3 308.9 1910.0 309.2 1950.0 309.6C1990.0 310.0 1985.0 310.5 2040.0 310.7C2095.0 310.9 2220.0 310.9 2280.0 310.7C2340.0 310.5 2366.7 309.9 2400.0 309.6C2433.3 309.3 2451.7 309.0 2480.0 308.9C2508.3 308.8 2533.3 308.8 2570.0 308.9C2606.7 309.0 2661.7 309.3 2700.0 309.6C2738.3 309.9 2766.7 310.5 2800.0 310.7C2833.3 310.9 2866.7 311.1 2900.0 311.0C2933.3 310.9 2953.3 310.2 3000.0 310.0C3046.7 309.8 3140.0 309.8 3180.0 310.0C3220.0 310.2 3220.0 310.6 3240.0 311.0C3260.0 311.4 3273.3 311.8 3300.0 312.1C3326.7 312.5 3366.7 312.8 3400.0 313.1C3433.3 313.5 3460.5 313.6 3500.0 314.2C3539.5 314.8 3614.2 316.2 3637.0 316.6" stroke="#000" stroke-width="4.1" fill="none" stroke-linejoin="round"/>
<path d="M266.0 465.1C272.3 465.2 289.3 465.2 304.0 465.5C318.7 465.8 336.8 466.5 354.0 466.9C371.2 467.3 386.3 467.5 407.0 467.9C427.7 468.2 454.7 468.6 478.0 469.0C501.3 469.4 522.2 469.6 547.0 470.0C571.8 470.4 591.5 470.8 627.0 471.1C662.5 471.4 671.2 471.7 760.0 471.8C848.8 471.9 1056.7 471.9 1160.0 471.8C1263.3 471.7 1326.7 471.3 1380.0 471.4C1433.3 471.5 1449.5 472.1 1480.0 472.5C1510.5 472.9 1549.2 473.8 1563.0 474.0M1666.0 475.6C1688.3 475.5 1752.7 475.3 1800.0 475.0C1847.3 474.7 1910.0 473.8 1950.0 473.9C1990.0 473.9 2008.3 474.9 2040.0 475.3C2071.7 475.7 2105.0 476.0 2140.0 476.3C2175.0 476.6 2206.7 476.7 2250.0 477.0C2293.3 477.3 2348.3 477.8 2400.0 478.0C2451.7 478.2 2526.7 478.2 2560.0 478.0C2593.3 477.8 2576.7 477.1 2600.0 477.0C2623.3 476.9 2666.7 477.3 2700.0 477.5C2733.3 477.7 2758.3 478.0 2800.0 478.4C2841.7 478.8 2915.0 479.4 2950.0 479.8C2985.0 480.2 2990.0 480.5 3010.0 480.8C3030.0 481.1 3050.0 481.9 3070.0 481.9C3090.0 481.9 3078.3 481.0 3130.0 480.8C3181.7 480.6 3328.3 480.6 3380.0 480.8C3431.7 481.0 3420.0 481.6 3440.0 482.0C3460.0 482.4 3480.0 482.7 3500.0 483.0C3520.0 483.3 3537.2 483.7 3560.0 484.0C3582.8 484.3 3624.2 484.5 3637.0 484.6" stroke="#000" stroke-width="4.1" fill="none" stroke-linejoin="round"/>
<path d="M266.0 688.6C278.3 688.5 314.3 688.5 340.0 688.2C365.7 687.9 388.3 687.3 420.0 687.0C451.7 686.7 493.3 686.4 530.0 686.3C566.7 686.2 604.8 686.2 640.0 686.5C675.2 686.8 706.0 687.6 741.0 688.0C776.0 688.4 818.0 688.7 850.0 689.0C882.0 689.3 905.8 689.7 933.0 690.0C960.2 690.3 989.5 690.7 1013.0 691.0C1036.5 691.3 1049.5 691.6 1074.0 692.0C1098.5 692.4 1135.3 692.9 1160.0 693.3C1184.7 693.7 1200.0 694.1 1222.0 694.5C1244.0 694.9 1271.5 695.3 1292.0 695.6C1312.5 695.9 1299.8 696.2 1345.0 696.3C1390.2 696.4 1526.7 696.3 1563.0 696.3M1666.0 696.5C1676.5 696.8 1704.0 697.5 1729.0 698.0C1754.0 698.5 1789.8 699.2 1816.0 699.8C1842.2 700.4 1862.7 700.9 1886.0 701.5C1909.3 702.1 1930.8 702.7 1956.0 703.3C1981.2 703.9 2008.8 704.4 2037.0 705.0C2065.2 705.6 2092.8 706.2 2125.0 706.8C2157.2 707.4 2195.2 707.9 2230.0 708.5C2264.8 709.1 2299.2 709.6 2334.0 710.2C2368.8 710.8 2407.0 711.4 2439.0 712.0C2471.0 712.6 2496.8 713.0 2526.0 713.7C2555.2 714.4 2584.8 715.5 2614.0 716.2C2643.2 716.9 2674.8 717.4 2701.0 717.9C2727.2 718.4 2746.2 718.8 2771.0 719.0C2795.8 719.2 2827.7 719.1 2850.0 719.4C2872.3 719.7 2872.5 720.3 2905.0 720.7C2937.5 721.1 2995.8 721.4 3045.0 721.8C3094.2 722.1 3162.2 722.8 3200.0 722.8C3237.8 722.8 3247.8 722.4 3272.0 722.0C3296.2 721.6 3329.3 720.8 3345.0 720.4C3360.7 720.0 3355.0 719.8 3366.0 719.8C3377.0 719.8 3390.0 720.4 3411.0 720.7C3432.0 721.0 3471.5 720.8 3492.0 721.4C3512.5 722.0 3518.3 723.2 3534.0 724.2C3549.7 725.2 3568.8 726.2 3586.0 727.7C3603.2 729.2 3628.5 732.1 3637.0 733.0" stroke="#000" stroke-width="4.1" fill="none" stroke-linejoin="round"/>
<path d="M266.0 771.4C271.7 771.7 286.0 772.4 300.0 773.0C314.0 773.6 332.2 774.4 350.0 775.0C367.8 775.6 384.7 776.8 407.0 776.6C429.3 776.4 459.0 774.5 484.0 773.8C509.0 773.0 536.2 772.5 557.0 772.1C577.8 771.7 580.5 771.5 609.0 771.4C637.5 771.3 695.8 771.0 728.0 771.4C760.2 771.8 769.3 773.2 802.0 773.6C834.7 774.0 887.3 773.5 924.0 773.8C960.7 774.1 998.7 775.3 1022.0 775.2C1045.3 775.1 1050.0 773.6 1064.0 773.0C1078.0 772.4 1090.0 771.8 1106.0 771.7C1122.0 771.6 1149.3 772.4 1160.0 772.6C1170.7 772.8 1156.7 772.6 1170.0 773.0C1183.3 773.4 1216.7 774.2 1240.0 774.9C1263.3 775.6 1286.7 776.5 1310.0 777.3C1333.3 778.0 1356.7 778.6 1380.0 779.4C1403.3 780.2 1426.8 781.1 1450.0 781.9C1473.2 782.7 1500.2 783.4 1519.0 784.0C1537.8 784.6 1555.7 785.2 1563.0 785.4M1666.0 787.6C1676.5 788.0 1709.8 789.3 1729.0 790.0C1748.2 790.7 1766.5 791.4 1781.0 791.7C1795.5 792.0 1804.3 792.2 1816.0 792.0C1827.7 791.8 1839.3 791.4 1851.0 790.6C1862.7 789.8 1874.3 788.4 1886.0 787.0C1897.7 785.6 1909.3 784.2 1921.0 782.0C1932.7 779.8 1947.7 775.4 1956.0 773.5C1964.3 771.6 1960.3 771.5 1971.0 770.7C1981.7 770.0 2000.2 769.6 2020.0 769.0C2039.8 768.4 2064.3 767.9 2090.0 767.2C2115.7 766.6 2149.5 765.6 2174.0 765.1C2198.5 764.6 2219.0 764.2 2237.0 764.4C2255.0 764.6 2265.8 765.5 2282.0 766.1C2298.2 766.7 2319.5 767.3 2334.0 767.9C2348.5 768.5 2357.3 768.6 2369.0 769.6C2380.7 770.6 2391.2 772.3 2404.0 773.8C2416.8 775.3 2433.2 777.0 2446.0 778.4C2458.8 779.8 2468.2 780.8 2481.0 781.9C2493.8 783.0 2506.7 783.8 2523.0 784.7C2539.3 785.6 2558.0 786.3 2579.0 787.1C2600.0 787.9 2625.7 788.8 2649.0 789.6C2672.3 790.4 2696.8 791.0 2719.0 791.7C2741.2 792.5 2760.2 793.6 2782.0 794.1C2803.8 794.6 2812.0 794.7 2850.0 794.8C2888.0 794.9 2977.5 794.6 3010.0 794.8C3042.5 795.0 3021.7 796.0 3045.0 796.2C3068.3 796.4 3118.0 796.1 3150.0 795.8C3182.0 795.5 3210.8 795.1 3237.0 794.5C3263.2 793.9 3287.8 793.0 3307.0 792.4C3326.2 791.8 3337.5 791.0 3352.0 791.0C3366.5 791.0 3375.3 791.8 3394.0 792.4C3412.7 793.0 3446.5 794.1 3464.0 794.8C3481.5 795.5 3487.3 796.5 3499.0 796.5C3510.7 796.5 3519.5 795.6 3534.0 794.8C3548.5 794.0 3568.8 792.7 3586.0 791.7C3603.2 790.7 3628.5 789.4 3637.0 788.9" stroke="#000" stroke-width="4.1" fill="none" stroke-linejoin="round"/>
</g>
<path d="M266 108V960M263 957H3640" stroke="#000" stroke-width="6" fill="none"/>
<path d="M266 111.00H347M266 216.75H347M266 322.50H347M266 428.25H347M266 534.00H347M266 639.75H347M266 745.50H347M266 851.25H347M266 957.00H347M266.00 957V894.0M336.23 957V924.0M406.46 957V924.0M476.69 957V924.0M546.92 957V894.0M617.15 957V924.0M687.38 957V924.0M757.60 957V924.0M827.83 957V894.0M898.06 957V924.0M968.29 957V924.0M1038.52 957V924.0M1108.75 957V894.0M1178.98 957V924.0M1249.21 957V924.0M1319.44 957V924.0M1389.67 957V894.0M1459.90 957V924.0M1530.12 957V924.0M1600.35 957V924.0M1670.58 957V894.0M1740.81 957V924.0M1811.04 957V924.0M1881.27 957V924.0M1951.50 957V894.0M2021.73 957V924.0M2091.96 957V924.0M2162.19 957V924.0M2232.42 957V894.0M2302.65 957V924.0M2372.88 957V924.0M2443.10 957V924.0M2513.33 957V894.0M2583.56 957V924.0M2653.79 957V924.0M2724.02 957V924.0M2794.25 957V894.0M2864.48 957V924.0M2934.71 957V924.0M3004.94 957V924.0M3075.17 957V894.0M3145.40 957V924.0M3215.62 957V924.0M3285.85 957V924.0M3356.08 957V894.0M3426.31 957V924.0M3496.54 957V924.0M3566.77 957V924.0M3637.00 957V894.0" stroke="#000" stroke-width="6" fill="none"/>
<defs><linearGradient id="cb" x1="0" x2="1" y1="0" y2="0" color-interpolation="sRGB"><stop offset="0" stop-color="#ffffff"/><stop offset="0.3333" stop-color="#ffb6c1"/><stop offset="0.6667" stop-color="#00ffff"/><stop offset="1" stop-color="#d3d3d3"/></linearGradient></defs>
<rect x="266" y="1144" width="3371" height="56" fill="url(#cb)"/>
<path d="M263 1200H3640M266.00 1200V1183M378.37 1200V1190M490.73 1200V1190M603.10 1200V1190M715.47 1200V1190M827.83 1200V1190M940.20 1200V1190M1052.57 1200V1190M1164.93 1200V1190M1277.30 1200V1190M1389.67 1200V1183M1502.03 1200V1190M1614.40 1200V1190M1726.77 1200V1190M1839.13 1200V1190M1951.50 1200V1190M2063.87 1200V1190M2176.23 1200V1190M2288.60 1200V1190M2400.97 1200V1190M2513.33 1200V1183M2625.70 1200V1190M2738.07 1200V1190M2850.43 1200V1190M2962.80 1200V1190M3075.17 1200V1190M3187.53 1200V1190M3299.90 1200V1190M3412.27 1200V1190M3524.63 1200V1190M3637.00 1200V1183" stroke="#000" stroke-width="6" fill="none"/>
<g fill="#fff" stroke="#000" stroke-width="6">
<rect x="256" y="1313" width="644" height="142"/>
<rect x="1001" y="1313" width="611" height="142"/>
<rect x="2328.3" y="1313" width="559.5" height="402"/>
</g>
<circle cx="293.4" cy="1383.8" r="17.1" fill="#32cd32"/>
<circle cx="1038.2" cy="1383.8" r="17.1" fill="#0000ff"/>
<path d="M2365.2 1364.1L2347.9 1394.1L2382.5 1394.1ZM2365.2 1490.1L2347.9 1460.1L2382.5 1460.1Z" fill="#ff0000"/>
<path d="M2365.2 1542.3L2352.2 1564.8L2378.2 1564.8ZM2365.2 1658.0L2352.2 1635.5L2378.2 1635.5Z" fill="#fff" stroke="#ff0000" stroke-width="5" stroke-linejoin="miter"/>
<g font-family="'Liberation Sans', sans-serif" fill="#000" style="font-kerning:none">
<text transform="translate(1490.93,77.30) scale(1.0064,1)" font-size="99.20">Cabauw: 2025/11/07</text>
<g stroke="#000" stroke-width="0.7" stroke-linejoin="round">
<text transform="translate(85.28,135.60) scale(1.0591,1)" font-size="70.67">11.9</text>
<text transform="translate(85.30,241.35) scale(1.0560,1)" font-size="70.67">10.4</text>
<text transform="translate(84.33,347.10) scale(1.0635,1)" font-size="70.67">9.00</text>
<text transform="translate(85.34,452.85) scale(1.0455,1)" font-size="70.67">7.52</text>
<text transform="translate(84.51,558.60) scale(1.0581,1)" font-size="70.67">6.03</text>
<text transform="translate(85.21,664.35) scale(1.0482,1)" font-size="70.67">4.55</text>
<text transform="translate(85.89,770.10) scale(1.0563,1)" font-size="70.67">3.06</text>
<text transform="translate(85.28,875.85) scale(1.0579,1)" font-size="70.67">1.58</text>
<text transform="translate(85.13,981.60) scale(1.0576,1)" font-size="70.67">0.10</text>
<text transform="translate(244.00,1037.00) scale(0.9945,1)" font-size="79.50">0</text>
<text transform="translate(524.72,1037.00) scale(0.9586,1)" font-size="79.50">2</text>
<text transform="translate(805.82,1037.00) scale(0.9946,1)" font-size="79.50">4</text>
<text transform="translate(1085.97,1037.00) scale(1.0293,1)" font-size="79.50">6</text>
<text transform="translate(1367.43,1037.00) scale(1.0052,1)" font-size="79.50">8</text>
<text transform="translate(1624.82,1037.00) scale(1.0372,1)" font-size="79.50">10</text>
<text transform="translate(1905.87,1037.00) scale(1.0168,1)" font-size="79.50">12</text>
<text transform="translate(2186.66,1037.00) scale(1.0367,1)" font-size="79.50">14</text>
<text transform="translate(2467.52,1037.00) scale(1.0455,1)" font-size="79.50">16</text>
<text transform="translate(2748.48,1037.00) scale(1.0399,1)" font-size="79.50">18</text>
<text transform="translate(3028.77,1037.00) scale(1.0447,1)" font-size="79.50">20</text>
<text transform="translate(3309.76,1037.00) scale(1.0249,1)" font-size="79.50">22</text>
<text transform="translate(3590.60,1037.00) scale(1.0442,1)" font-size="79.50">24</text>
<text transform="translate(1738.82,1117.00) scale(1.0164,1)" font-size="79.50">Time (UTC)</text>
<text transform="rotate(-90) translate(-834.82,35.40) scale(1.0392,1)" font-size="70.67">Height AMSL (km)</text>
<text transform="translate(179.29,1261.50) scale(1.0544,1)" font-size="61.83">Clear</text>
<text transform="translate(1303.27,1261.50) scale(1.0649,1)" font-size="61.83">Water</text>
<text transform="translate(2470.56,1261.50) scale(1.0311,1)" font-size="61.83">Ice</text>
<text transform="translate(3554.31,1261.50) scale(1.0774,1)" font-size="61.83">Other</text>
<text transform="translate(331.32,1405.20) scale(0.9540,1)" font-size="61.83">SEV-CTTH SL Wat</text>
<text transform="translate(1076.22,1405.20) scale(0.9535,1)" font-size="61.83">SEV-CTTH SL Ice</text>
<text transform="translate(2402.99,1404.60) scale(0.9448,1)" font-size="61.83">ACTRIS CBH</text>
<text transform="translate(2402.99,1491.60) scale(0.9406,1)" font-size="61.83">ACTRIS CTH</text>
<text transform="translate(2402.98,1578.60) scale(0.9553,1)" font-size="61.83">ACTRIS CBH BL</text>
<text transform="translate(2402.99,1665.20) scale(0.9519,1)" font-size="61.83">ACTRIS CTH BL</text>
</g>
<text x="1566.2" y="329.3" font-size="58.33">230</text>
<text x="1566.2" y="496.3" font-size="58.33">250</text>
<text x="1566.2" y="718.0" font-size="58.33">273</text>
<text x="1566.2" y="807.8" font-size="58.33">279</text>
</g>
</svg></body></html>
